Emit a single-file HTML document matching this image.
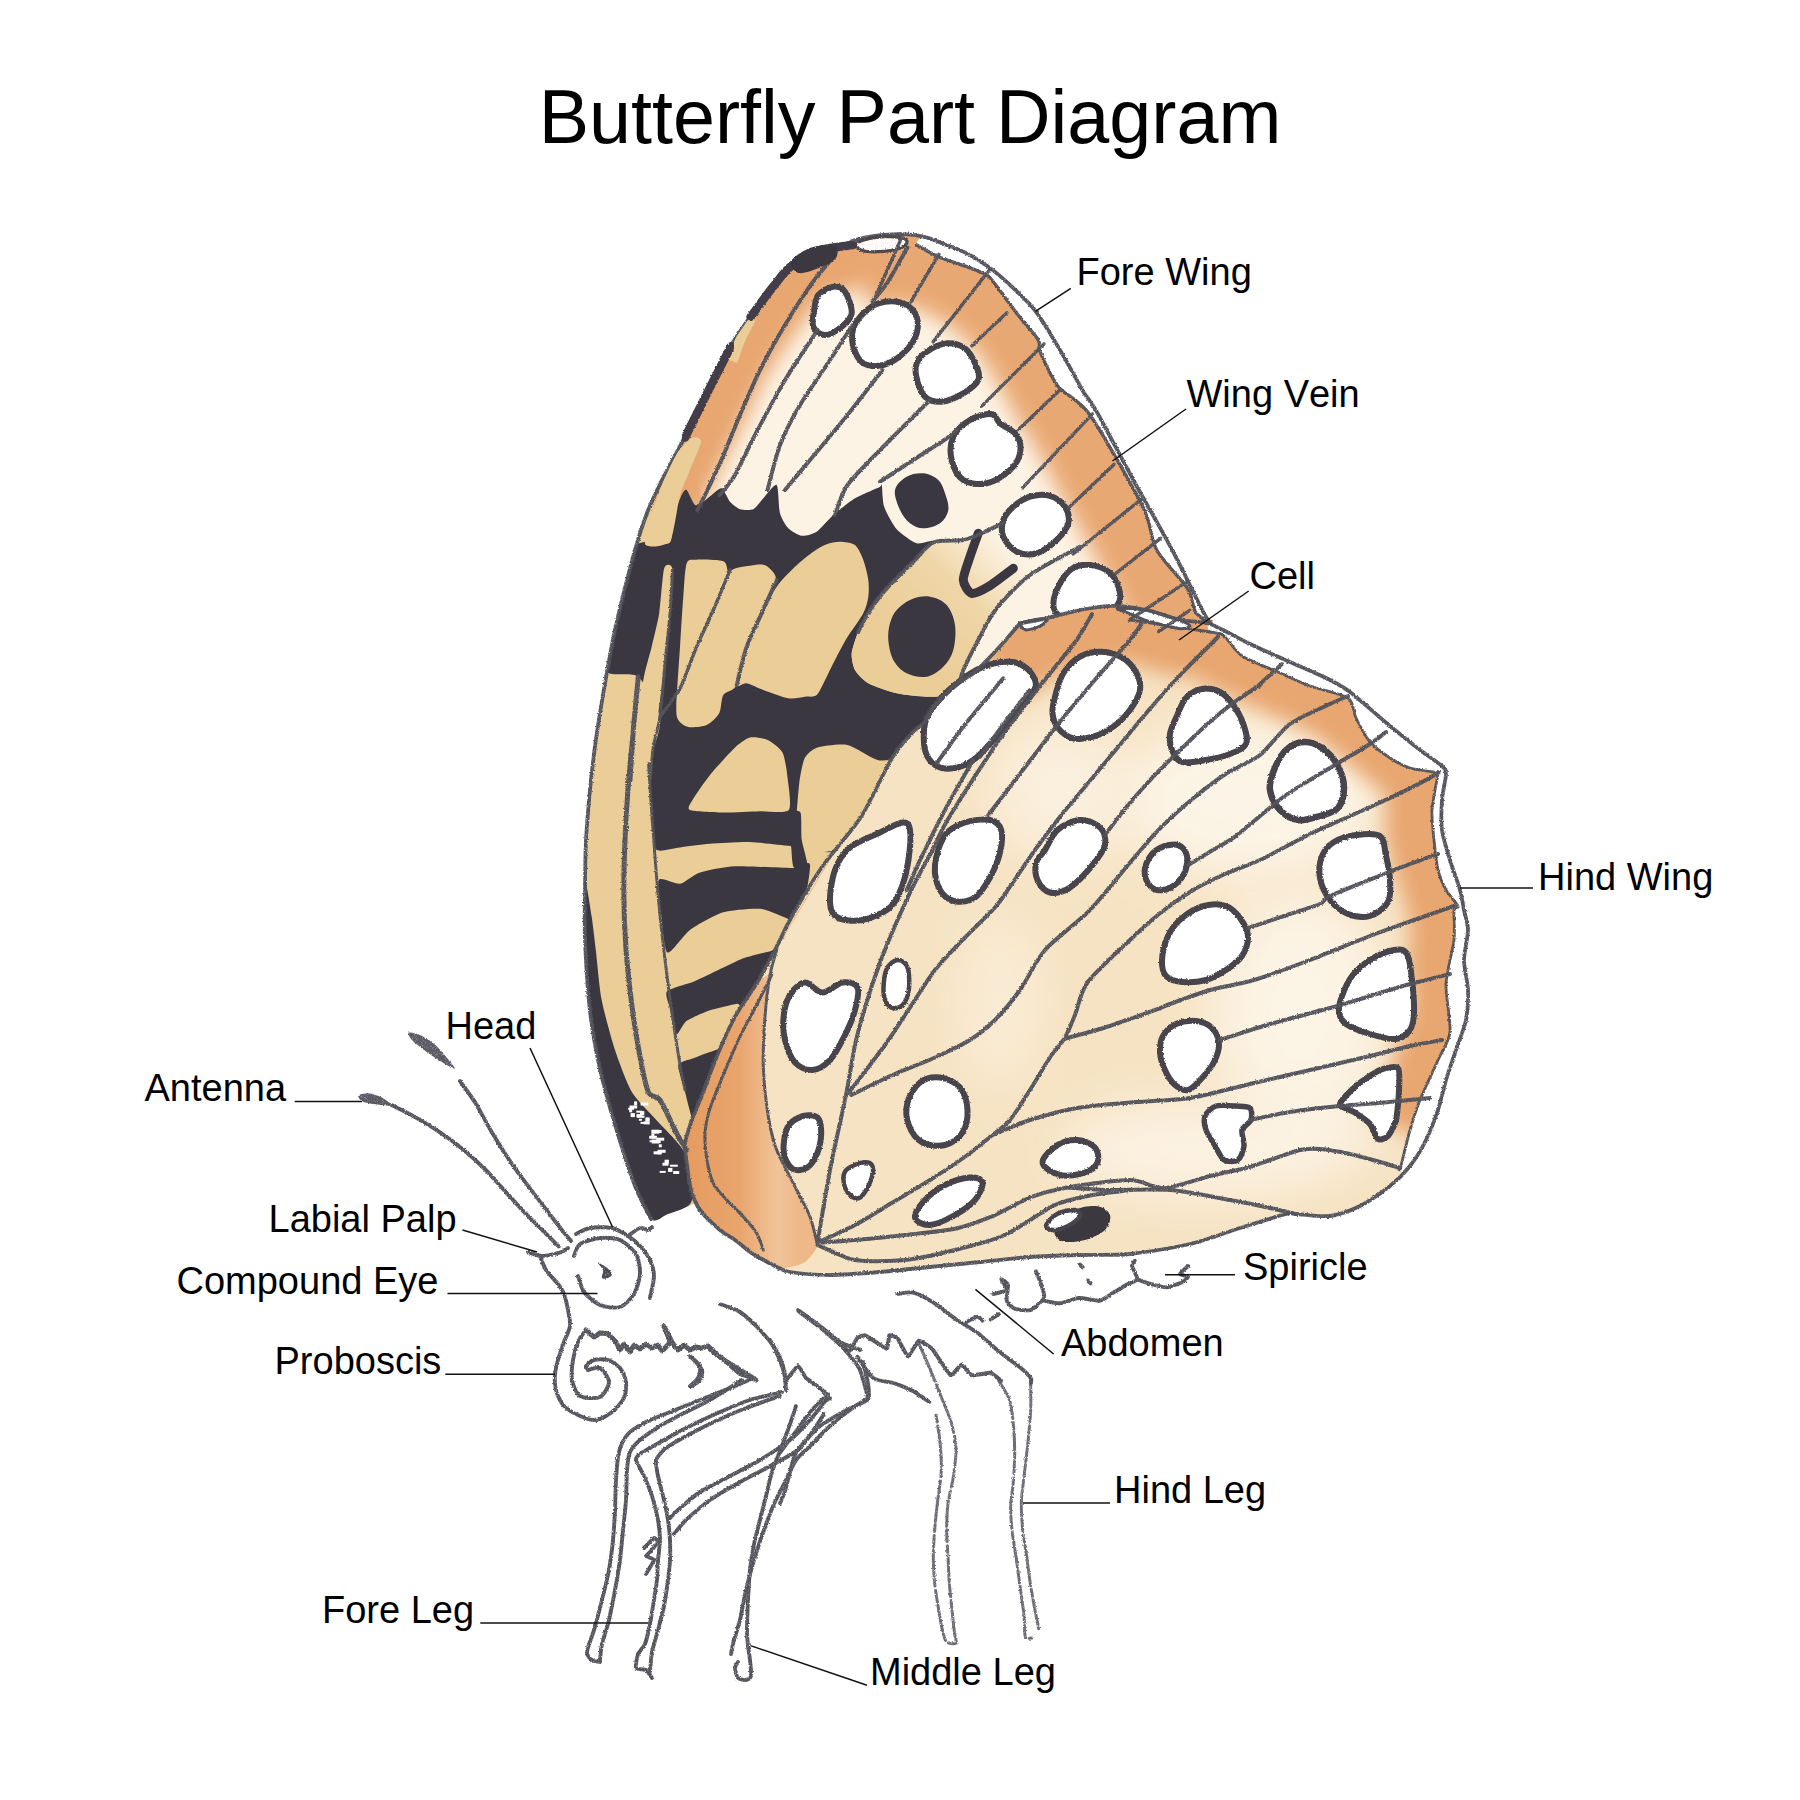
<!DOCTYPE html>
<html><head><meta charset="utf-8"><title>Butterfly Part Diagram</title>
<style>
html,body{margin:0;padding:0;background:#fff;}
body{width:1800px;height:1800px;overflow:hidden;position:relative;}
svg{position:absolute;left:0;top:0;display:block;}
text{font-family:"Liberation Sans",sans-serif;fill:#000;font-kerning:none;}
</style></head><body>
<svg width="1800" height="1800" viewBox="0 0 1800 1800">
<defs>
<filter id="b6" x="-20%" y="-20%" width="140%" height="140%"><feGaussianBlur stdDeviation="6"/></filter>
<filter id="b10" x="-20%" y="-20%" width="140%" height="140%"><feGaussianBlur stdDeviation="10"/></filter>
<filter id="b16" x="-30%" y="-30%" width="160%" height="160%"><feGaussianBlur stdDeviation="16"/></filter>
<filter id="b25" x="-30%" y="-30%" width="160%" height="160%"><feGaussianBlur stdDeviation="25"/></filter>
<filter id="rough" x="-5%" y="-5%" width="110%" height="110%"><feTurbulence type="fractalNoise" baseFrequency="0.6" numOctaves="2" seed="3" result="n"/><feDisplacementMap in="SourceGraphic" in2="n" scale="2.6" xChannelSelector="R" yChannelSelector="G"/></filter>
<linearGradient id="gEye" gradientUnits="userSpaceOnUse" x1="900" y1="640" x2="1000" y2="540"><stop offset="0" stop-color="#ebcd98"/><stop offset="0.55" stop-color="#efd6a8"/><stop offset="1" stop-color="#fdf3e4"/></linearGradient>
<linearGradient id="gInner" gradientUnits="userSpaceOnUse" x1="690" y1="1100" x2="800" y2="1100"><stop offset="0" stop-color="#e59c60"/><stop offset="0.45" stop-color="#e9a56d"/><stop offset="0.8" stop-color="#f1c49a"/><stop offset="1" stop-color="#eeb888"/></linearGradient>
<filter id="pencil" x="-5%" y="-5%" width="110%" height="110%"><feTurbulence type="fractalNoise" baseFrequency="0.6" numOctaves="2" seed="3" result="n"/><feDisplacementMap in="SourceGraphic" in2="n" scale="2.6" xChannelSelector="R" yChannelSelector="G" result="d"/><feTurbulence type="fractalNoise" baseFrequency="1.1" numOctaves="2" seed="9" result="g"/><feColorMatrix in="g" type="matrix" values="0 0 0 0 0  0 0 0 0 0  0 0 0 0 0  0 0 0 -1.1 1.55" result="ga"/><feComposite in="d" in2="ga" operator="in"/></filter>
</defs>
<clipPath id="cFW"><path d="M651 1219 C645.5 1214.3 640.8 1201.2 635 1186 C629.2 1170.8 621.8 1147.5 616 1128 C610.2 1108.5 604.3 1088.5 600 1069 C595.7 1049.5 592.5 1032.5 590 1011 C587.5 989.5 585.8 960.2 585 940 C584.2 919.8 584.8 906.7 585 890 C585.2 873.3 585.2 856.7 586 840 C586.8 823.3 588.5 805.7 590 790 C591.5 774.3 593.3 758.8 595 746 C596.7 733.2 598 725.3 600 713 C602 700.7 604.5 685.8 607 672 C609.5 658.2 612 644 615 630 C618 616 621.7 601.3 625 588 C628.3 574.7 631.3 562.5 635 550 C638.7 537.5 642.5 524.7 647 513 C651.5 501.3 657 490.2 662 480 C667 469.8 671.5 462.5 677 452 C682.5 441.5 689.2 428.7 695 417 C700.8 405.3 706.2 393.7 712 382 C717.8 370.3 723.7 357.8 730 347 C736.3 336.2 743 327 750 317 C757 307 765 295.7 772 287 C779 278.3 783.7 271.2 792 265 C800.3 258.8 814 253.1 822 250 C830 246.9 834.5 248.3 840 246.7 C845.5 245 849.2 241.8 855 240 C860.8 238.2 867.5 236.8 875 235.8 C882.5 234.9 891.9 234 900 234.2 C908.1 234.3 915.6 234.9 923.3 236.7 C931.1 238.5 939.4 242.2 946.7 245 C953.9 247.8 959.7 249.7 966.7 253.3 C973.6 256.9 981.4 261.7 988.3 266.7 C995.3 271.7 1000.8 276.4 1008.3 283.3 C1015.8 290.3 1026.4 300 1033.3 308.3 C1040.3 316.7 1044.4 324.4 1050 333.3 C1055.6 342.2 1061.1 351.9 1066.7 361.7 C1072.2 371.4 1078.3 383.3 1083.3 391.7 C1088.3 400 1088.3 396.9 1096.7 411.7 C1105 426.4 1120.7 456.9 1133.3 480 C1145.9 503.1 1160.6 528 1172.2 550 C1183.9 572 1196.9 599.9 1203.3 612.2 C1209.8 624.5 1216.7 615.9 1211.1 623.9 C1205.6 631.9 1198.5 652.3 1170 660 C1141.5 667.7 1073.3 660 1040 670 C1006.7 680 991.7 700 970 720 C948.3 740 928.3 765 910 790 C891.7 815 875.8 845 860 870 C844.2 895 826.7 919.2 815 940 C803.3 960.8 798.3 978.3 790 995 C781.7 1011.7 774.2 1025.8 765 1040 C755.8 1054.2 743.3 1066.7 735 1080 C726.7 1093.3 720.8 1106.7 715 1120 C709.2 1133.3 702.8 1147 700 1160 C697.2 1173 699.8 1190.3 698 1198 C696.2 1205.7 694 1203.3 689 1206 C684 1208.7 674.3 1211.8 668 1214 C661.7 1216.2 656.5 1223.7 651 1219Z"/></clipPath>
<clipPath id="cHW"><path d="M1020 623.3 C1026.7 619.1 1038.7 620.1 1046.7 618.3 C1054.7 616.6 1071.1 611.7 1080 610 C1088.9 608.3 1104.4 605.8 1113.3 605.8 C1122.2 605.8 1137.8 608.1 1146.7 610 C1155.6 611.9 1171.6 618.1 1180 620 C1188.4 621.9 1200.7 620.8 1210 624 C1219.3 627.2 1239.3 638.9 1250 644 C1260.7 649.1 1279.3 657.2 1290 662 C1300.7 666.8 1322 676 1330 680 C1338 684 1342 685.9 1350 692 C1358 698.1 1380.7 718.3 1390 726 C1399.3 733.7 1413.1 744.7 1420 750 C1426.9 755.3 1438.5 762.8 1442 766 C1445.5 769.2 1446 769.5 1446 774 C1446 778.5 1442.5 792.5 1442 800 C1441.5 807.5 1440.9 822 1442 830 C1443.1 838 1447.6 852 1450 860 C1452.4 868 1458.1 883.3 1460 890 C1461.9 896.7 1462.9 904.7 1464 910 C1465.1 915.3 1468 923.3 1468 930 C1468 936.7 1464 952 1464 960 C1464 968 1467.7 982 1468 990 C1468.3 998 1467.6 1012 1466 1020 C1464.4 1028 1458.7 1042 1456 1050 C1453.3 1058 1448.4 1072 1446 1080 C1443.6 1088 1440.7 1102 1438 1110 C1435.3 1118 1429.7 1132.5 1426 1140 C1422.3 1147.5 1414.8 1159.9 1410 1166 C1405.2 1172.1 1396.7 1180.7 1390 1186 C1383.3 1191.3 1368 1202 1360 1206 C1352 1210 1338.5 1214.9 1330 1216 C1321.5 1217.1 1301.9 1214.3 1296 1214 C1290.1 1213.7 1293.5 1212.1 1286 1214 C1278.5 1215.9 1252.8 1224 1240 1228 C1227.2 1232 1204.7 1240.5 1190 1244 C1175.3 1247.5 1144.7 1252.5 1130 1254 C1115.3 1255.5 1093.3 1254.6 1080 1255 C1066.7 1255.4 1043.3 1256.1 1030 1257 C1016.7 1257.9 993.3 1260.7 980 1262 C966.7 1263.3 943.3 1265.7 930 1267 C916.7 1268.3 893.3 1270.9 880 1272 C866.7 1273.1 842 1275 830 1275 C818 1275 797.3 1273.2 790 1272 C782.7 1270.8 779 1267.9 775 1266 C771 1264.1 763.3 1259.9 760 1258 C756.7 1256.1 753.3 1254.4 750 1252 C746.7 1249.6 739 1242.9 735 1240 C731 1237.1 724.7 1234 720 1230 C715.3 1226 703.9 1215.3 700 1210 C696.1 1204.7 692.7 1196 691 1190 C689.3 1184 687.8 1171.3 687 1165 C686.2 1158.7 684.3 1149 685 1143 C685.7 1137 691.1 1123.1 692 1120 C692.9 1116.9 690.2 1123.8 691.7 1120 C693.2 1116.2 700 1100.1 703.3 1091.7 C706.7 1083.2 712.4 1066.7 716.7 1056.7 C720.9 1046.7 729.7 1026.4 735 1016.7 C740.3 1006.9 751.3 992.2 756.7 983.3 C762 974.4 770.4 958.7 775 950 C779.6 941.3 784.7 929.1 791 918 C797.3 906.9 812.7 880.5 822 867 C831.3 853.5 851.7 831.5 861 817 C870.3 802.5 885.2 769.2 892 758 C898.8 746.8 907.6 737.8 912 733 C916.4 728.2 921.9 725.4 925 721.7 C928.1 717.9 930.8 710.1 935 705 C939.2 699.9 951.6 687.6 956.7 683.3 C961.8 679.1 968 677.8 973.3 673.3 C978.7 668.9 990.4 656.7 996.7 650 C1002.9 643.3 1013.3 627.6 1020 623.3Z"/></clipPath>
<g clip-path="url(#cFW)">
<path d="M651 1219 C645.5 1214.3 640.8 1201.2 635 1186 C629.2 1170.8 621.8 1147.5 616 1128 C610.2 1108.5 604.3 1088.5 600 1069 C595.7 1049.5 592.5 1032.5 590 1011 C587.5 989.5 585.8 960.2 585 940 C584.2 919.8 584.8 906.7 585 890 C585.2 873.3 585.2 856.7 586 840 C586.8 823.3 588.5 805.7 590 790 C591.5 774.3 593.3 758.8 595 746 C596.7 733.2 598 725.3 600 713 C602 700.7 604.5 685.8 607 672 C609.5 658.2 612 644 615 630 C618 616 621.7 601.3 625 588 C628.3 574.7 631.3 562.5 635 550 C638.7 537.5 642.5 524.7 647 513 C651.5 501.3 657 490.2 662 480 C667 469.8 671.5 462.5 677 452 C682.5 441.5 689.2 428.7 695 417 C700.8 405.3 706.2 393.7 712 382 C717.8 370.3 723.7 357.8 730 347 C736.3 336.2 743 327 750 317 C757 307 765 295.7 772 287 C779 278.3 783.7 271.2 792 265 C800.3 258.8 814 253.1 822 250 C830 246.9 834.5 248.3 840 246.7 C845.5 245 849.2 241.8 855 240 C860.8 238.2 867.5 236.8 875 235.8 C882.5 234.9 891.9 234 900 234.2 C908.1 234.3 915.6 234.9 923.3 236.7 C931.1 238.5 939.4 242.2 946.7 245 C953.9 247.8 959.7 249.7 966.7 253.3 C973.6 256.9 981.4 261.7 988.3 266.7 C995.3 271.7 1000.8 276.4 1008.3 283.3 C1015.8 290.3 1026.4 300 1033.3 308.3 C1040.3 316.7 1044.4 324.4 1050 333.3 C1055.6 342.2 1061.1 351.9 1066.7 361.7 C1072.2 371.4 1078.3 383.3 1083.3 391.7 C1088.3 400 1088.3 396.9 1096.7 411.7 C1105 426.4 1120.7 456.9 1133.3 480 C1145.9 503.1 1160.6 528 1172.2 550 C1183.9 572 1196.9 599.9 1203.3 612.2 C1209.8 624.5 1216.7 615.9 1211.1 623.9 C1205.6 631.9 1198.5 652.3 1170 660 C1141.5 667.7 1073.3 660 1040 670 C1006.7 680 991.7 700 970 720 C948.3 740 928.3 765 910 790 C891.7 815 875.8 845 860 870 C844.2 895 826.7 919.2 815 940 C803.3 960.8 798.3 978.3 790 995 C781.7 1011.7 774.2 1025.8 765 1040 C755.8 1054.2 743.3 1066.7 735 1080 C726.7 1093.3 720.8 1106.7 715 1120 C709.2 1133.3 702.8 1147 700 1160 C697.2 1173 699.8 1190.3 698 1198 C696.2 1205.7 694 1203.3 689 1206 C684 1208.7 674.3 1211.8 668 1214 C661.7 1216.2 656.5 1223.7 651 1219Z" fill="#fdf3e4"/>
<path d="M560 1260 L560 560 L640 470 L690 455 L702 500 L700 560 L940 600 L940 700 L880 1300Z" fill="#ebcd98"/>
<path d="M855 240 C858.3 239.3 867.5 236.8 875 235.8 C882.5 234.9 891.9 234 900 234.2 C908.1 234.3 915.6 234.9 923.3 236.7 C931.1 238.5 939.4 242.2 946.7 245 C953.9 247.8 959.7 249.7 966.7 253.3 C973.6 256.9 981.4 261.7 988.3 266.7 C995.3 271.7 1000.8 276.4 1008.3 283.3 C1015.8 290.3 1026.4 300 1033.3 308.3 C1040.3 316.7 1044.4 324.4 1050 333.3 C1055.6 342.2 1061.1 351.9 1066.7 361.7 C1072.2 371.4 1078.3 383.3 1083.3 391.7 C1088.3 400 1088.3 396.9 1096.7 411.7 C1105 426.4 1120.7 456.9 1133.3 480 C1145.9 503.1 1160.6 528 1172.2 550 C1183.9 572 1196.9 599.9 1203.3 612.2 C1209.8 624.5 1207.5 617.6 1211.1 623.9 C1214.7 630.2 1222.7 645.6 1225 650" fill="none" stroke="#e8a670" stroke-width="142" filter="url(#b10)" opacity="0.97"/>
<path d="M655 500 C658.7 492 670.3 465.8 677 452 C683.7 438.2 689.2 428.7 695 417 C700.8 405.3 706.2 393.7 712 382 C717.8 370.3 723.7 357.8 730 347 C736.3 336.2 743 327 750 317 C757 307 765 295.7 772 287 C779 278.3 783.7 271.2 792 265 C800.3 258.8 814 253.1 822 250 C830 246.9 834.5 248.3 840 246.7 C845.5 245 849.2 241.8 855 240 C860.8 238.2 871.7 236.5 875 235.8" fill="none" stroke="#e8a670" stroke-width="92" filter="url(#b10)"/>
<path d="M635 546.7 C637.9 541.2 645.9 542.2 650 541.7 C654.1 541.2 667.1 545.8 670 542.5 C672.9 539.2 673.6 518.9 675 513.3 C676.4 507.8 680.3 497.7 681.7 495 C683 492.3 685.1 488.8 686.7 490 C688.2 491.2 693.1 503.6 695 505 C696.9 506.4 701.4 502.8 703.3 501.7 C705.3 500.5 709.5 496.6 711.7 495 C713.8 493.4 719.5 487.6 721.7 488.3 C723.8 489.1 727.9 499.2 730 501.7 C732.1 504.1 737.3 508.3 740 509.2 C742.7 510 750.6 510.4 753.3 509.2 C756.1 507.9 760.6 501.2 763.3 498.3 C766.1 495.5 774.7 483.2 776.7 485 C778.6 486.8 778.6 508.3 780 513.3 C781.4 518.4 785.8 525.7 788.3 528.3 C790.9 531 798.4 535.4 801.7 535.8 C805 536.2 813 534.1 816.7 531.7 C820.4 529.2 828.9 518.9 833.3 515 C837.8 511.1 849.6 501.6 855 498.3 C860.4 495 876.9 488.5 880 486.7 C883.1 484.8 881.2 480.2 881.7 482.5 C882.2 484.8 882.4 501.2 884.2 506.7 C885.9 512.1 892.9 524.9 896.7 529.2 C900.5 533.4 912.4 541.9 916.7 543.3 C920.9 544.8 933.7 539.2 933.3 541.3 C932.9 543.5 918.6 556.4 913.3 561.7 C908.1 567 893.4 581 888.3 586.7 C883.3 592.3 873.5 604.8 870 610 C866.5 615.2 860.5 626.6 858.3 631.7 C856.2 636.7 852.1 648.9 851.7 653.3 C851.3 657.8 853.1 666.5 855 670 C856.9 673.5 863.5 680.6 868.3 683.3 C873.2 686.1 889.9 691.8 896.7 693.3 C903.5 694.9 920.8 696.5 926.7 696.7 C932.5 696.9 942.8 696.8 946.7 695 C950.6 693.2 955.5 681.1 960 681.7 C964.5 682.3 993.2 687.4 985 700 C976.8 712.6 906.9 772.5 890 790 C873.1 807.5 851.5 843.5 840 850 C828.5 856.5 801.5 846.9 791 846 C780.5 845.1 759.5 842.3 750 842 C740.5 841.7 718.2 843.1 710 843.8 C701.8 844.4 686 846.7 680 847.5 C674 848.3 661.8 851.4 658.8 850.5 C655.7 849.6 654.9 850 653.8 840 C652.6 830 649.5 779.6 648.8 765 C648 750.4 647 717.1 647.5 715 C648 712.9 651.9 746.5 653.3 746.7 C654.8 746.9 661.8 724.8 660 716.7 C658.2 708.5 644.6 681.9 638.3 676.7 C632.1 671.4 609.4 677.1 606.7 671.7 C603.9 666.2 612.9 639.7 615 630 C617.1 620.3 622.7 598.1 625 588.3 C627.3 578.6 632.1 552.1 635 546.7Z" fill="#3b3741"/>
<path d="M664.2 568.3 C665.7 563.2 671.8 563.9 672.5 569.2 C673.2 574.4 670.9 602.3 670 613.3 C669.1 624.3 666.4 651.7 665 663.3 C663.6 675 659.7 703.6 658.3 713.3 C657 723.1 654.3 738.9 653.3 746.7 C652.4 754.4 652.1 776.1 650 780 C647.9 783.9 636.4 785.8 635 780 C633.6 774.2 637.4 741.7 638.3 730 C639.3 718.3 641.8 689.7 643.3 680 C644.9 670.3 649.8 654.4 651.7 646.7 C653.5 638.9 657.7 622.5 659.2 613.3 C660.6 604.2 662.6 573.5 664.2 568.3Z" fill="#ebcd98"/>
<path d="M686.7 563.3 C688.4 558.4 691.8 559.9 696.7 559.7 C701.6 559.4 719.1 559.7 723.3 561.3 C727.6 562.9 726.6 570.8 728.3 571.7 C730.1 572.6 732 568.9 736.7 568 C741.3 567.1 758.2 563.7 763.3 564.7 C768.4 565.6 773.6 572.1 775 575 C776.4 577.9 775.9 581.6 774.2 586.7 C772.4 591.8 765.3 605.3 761.7 613.3 C758 621.3 750 637.1 746.7 646.7 C743.3 656.2 739.8 678.6 736.7 685 C733.6 691.4 725.7 691.2 723.3 695 C721 698.8 721.4 709.3 719.2 713.3 C716.9 717.3 710.8 723.2 706.7 725 C702.6 726.8 692.1 727.7 688.3 727 C684.6 726.3 679.9 722.9 678.3 720 C676.7 717.1 676.1 714.8 676.3 705 C676.6 695.2 679.1 661.1 680 646.7 C680.9 632.2 682.4 607.8 683.3 596.7 C684.2 585.6 684.9 568.3 686.7 563.3Z" fill="#ebcd98"/>
<path d="M826.7 544.2 C830.2 542.8 836.2 541.6 840 541.7 C843.8 541.8 851.9 542.6 855 545 C858.1 547.4 861.6 555.3 863.3 560 C865.1 564.7 867.7 575.1 868.3 580 C869 584.9 869 592.2 868.3 596.7 C867.7 601.1 866.2 607.8 863.3 613.3 C860.4 618.9 850.7 631.7 846.7 638.3 C842.7 645 836 658.2 833.3 663.3 C830.7 668.4 828.9 672.4 826.7 676.7 C824.4 680.9 819.6 692.3 816.7 695 C813.8 697.7 808.8 696.2 805 696.7 C801.2 697.1 793.9 699.2 788.3 698.3 C782.8 697.4 768.9 692 763.3 690 C757.8 688 750.3 684 746.7 683.3 C743 682.6 735.8 689.6 735.8 684.7 C735.8 679.8 743.2 656.2 746.7 646.7 C750.1 637.2 757.7 621.3 761.7 613.3 C765.7 605.3 772.2 592.9 776.7 586.7 C781.1 580.4 790.1 571.3 795 566.7 C799.9 562 809.1 554.7 813.3 551.7 C817.6 548.7 823.1 545.5 826.7 544.2Z" fill="#ebcd98"/>
<path d="M933.3 542.5 C939.2 540 952.1 543.7 963.3 540 C974.6 536.3 1020.3 515.2 1030 510.8 C1039.7 506.5 1044.3 496.4 1046.7 502.5 C1049 508.6 1051.9 554.9 1050 563.3 C1048.1 571.8 1036.2 569.8 1030 575 C1023.8 580.2 1002.5 601.1 996.7 608.3 C990.8 615.5 983.9 629.5 980 636.7 C976.1 643.9 965.7 664.8 963.3 670 C961 675.2 961.9 678.8 960 681.7 C958.1 684.6 950.6 693.2 946.7 695 C942.8 696.8 932.5 696.9 926.7 696.7 C920.8 696.5 903.5 694.9 896.7 693.3 C889.9 691.8 873.2 686.1 868.3 683.3 C863.5 680.6 856.9 673.5 855 670 C853.1 666.5 851.3 657.8 851.7 653.3 C852.1 648.9 856.2 636.7 858.3 631.7 C860.5 626.6 866.5 615.2 870 610 C873.5 604.8 883.3 592.3 888.3 586.7 C893.4 581 908.1 566.8 913.3 561.7 C918.6 556.5 927.5 545 933.3 542.5Z" fill="url(#gEye)"/>
<path d="M690 810 C686.5 808.5 690.2 804.1 692.5 800 C694.8 795.9 705 781.1 710 775 C715 768.9 730.3 751.9 735 747.5 C739.7 743.1 746.2 738.4 750 737.5 C753.8 736.6 763.7 738.2 767.5 740 C771.3 741.8 780.2 748.1 782.5 752.5 C784.8 756.9 786.8 770.8 787.5 777.5 C788.2 784.2 792 806.1 788.8 810 C785.5 813.9 767.7 811 760 811.2 C752.3 811.5 730.7 812.6 722.5 812.5 C714.3 812.4 693.5 811.5 690 810Z" fill="#ebcd98"/>
<path d="M805 757.5 C807 754 812.5 749 817.5 747.5 C822.5 746 840.5 743.5 847.5 745 C854.5 746.5 870.2 757.7 877.5 760 C884.8 762.3 909.1 755.7 910 765 C910.9 774.3 895.2 829.8 885 840 C874.8 850.2 832.4 849.6 822.5 852.5 C812.6 855.4 803.2 866.5 800 865 C796.8 863.5 795.3 847.3 795 840 C794.7 832.7 796.9 809.8 797.5 802.5 C798.1 795.2 799.1 782.8 800 777.5 C800.9 772.2 803 761 805 757.5Z" fill="#ebcd98"/>
<path d="M788.8 812.5 C789.7 809 799.2 809.8 800.5 812.5 C801.8 815.2 801 834.6 801.8 840 C802.5 845.4 808.3 863.5 807.5 866.2 C806.7 869 795.4 869.4 793.8 867.5 C792.1 865.6 791.8 853 791.2 847.5 C790.8 842 787.8 816 788.8 812.5Z" fill="#3b3741"/>
<path d="M895 490 C896.1 484.4 901.9 479.4 906.7 476.7 C911.4 473.9 918.1 472.8 923.3 473.3 C928.6 473.9 934.7 476.7 938.3 480 C941.9 483.3 943.3 488.3 945 493.3 C946.7 498.3 949.2 505 948.3 510 C947.5 515 944.2 520.3 940 523.3 C935.8 526.4 928.3 528.3 923.3 528.3 C918.3 528.3 913.9 526.4 910 523.3 C906.1 520.3 902.5 515.6 900 510 C897.5 504.4 893.9 495.6 895 490Z" fill="#3b3741"/>
<path d="M896.7 610 C900.3 606 906.1 601.4 911.7 599.2 C917.2 596.9 924.2 595.7 930 596.7 C935.8 597.6 942.5 600.3 946.7 605 C950.8 609.7 953.9 617.5 955 625 C956.1 632.5 955.3 643.1 953.3 650 C951.4 656.9 947.8 662.2 943.3 666.7 C938.9 671.1 932.8 675.6 926.7 676.7 C920.6 677.8 912.2 676.1 906.7 673.3 C901.1 670.6 896.4 665.6 893.3 660 C890.3 654.4 888.9 646.1 888.3 640 C887.8 633.9 888.6 628.3 890 623.3 C891.4 618.3 893.1 614 896.7 610Z" fill="#3b3741"/>
<path d="M978.3 533.3 C977.2 536.4 972 550.4 970 556.7 C968 562.9 963.1 575.1 963.3 580 C963.6 584.9 968.3 592.4 971.7 593.3 C975 594.2 982.8 590 988.3 586.7 C993.9 583.3 1010 570.8 1013.3 568.3" fill="none" stroke="#3b3741" stroke-width="9" stroke-linecap="round" stroke-linejoin="round"/>
<path d="M658.8 880 C660.9 876.4 675.2 884.6 680 883.8 C684.8 882.9 693.6 874.5 700 872.5 C706.4 870.5 724.2 866.8 735 866.2 C745.8 865.7 783.8 868.1 792.5 868 C801.2 867.9 809.1 858.9 810 865 C810.9 871.1 802.9 913.9 800 920 C797.1 926.1 789.7 918.8 785 917.5 C780.3 916.2 767.3 909.3 760 908.8 C752.7 908.2 730.7 910 722.5 912.5 C714.3 915 696.4 925.3 690 930 C683.6 934.7 670.9 954.2 667.5 952.5 C664.1 950.8 662.3 923.5 661.2 915 C660.2 906.5 656.6 883.6 658.8 880Z" fill="#3b3741"/>
<path d="M666.7 991.7 C668.8 988.5 688.2 983.8 693.3 981.7 C698.5 979.5 713.3 972.3 718.3 970 C723.3 967.7 738.3 960.2 743.3 958.3 C748.3 956.5 764.5 952.5 768.3 951.7 C772.2 950.8 784.2 944.8 781.7 950 C779.2 955.2 747.8 998 743.3 1003.3 C738.8 1008.7 740 1003 736.7 1003.7 C733.3 1004.4 715 1008.6 710 1010.3 C705 1012.1 690 1018.5 686.7 1020.8 C683.3 1023.2 678.2 1034.9 676.7 1034.2 C675.2 1033.4 672.7 1017.6 671.7 1013.3 C670.7 1009.1 664.5 994.8 666.7 991.7Z" fill="#3b3741"/>
<path d="M678.3 1065 C679.2 1061.7 690.2 1059.6 693.3 1058.3 C696.5 1057 706.7 1053 710 1052 C713.3 1051 726.7 1045.2 726.7 1048.3 C726.7 1051.5 713 1076.5 710 1083.3 C707 1090.2 698.5 1113.3 696.7 1116.7 C694.8 1120 692.8 1119.2 691.7 1116.7 C690.5 1114.2 686.3 1096.8 685 1091.7 C683.7 1086.5 677.5 1068.3 678.3 1065Z" fill="#3b3741"/>
<path d="M585 880 C584.4 882.7 585.9 926 586.3 940 C586.7 954 587.3 987.2 588.3 1000 C589.3 1012.8 592.9 1038.3 595 1050 C597.1 1061.7 603.4 1088.3 606.7 1100 C610 1111.7 619.6 1139.3 623.3 1150 C627 1160.7 635.2 1183.4 638.3 1191.7 C641.4 1199.9 646.7 1217.9 650 1220.8 C653.3 1223.8 662.1 1218.5 666.7 1216.7 C671.2 1214.8 686.2 1207.9 689.2 1205 C692.2 1202.1 692.7 1197.1 692.5 1191.7 C692.3 1186.2 689.3 1164.2 687.5 1158.3 C685.7 1152.5 680.7 1146.5 676.7 1141.7 C672.7 1136.8 658.6 1122.5 653.3 1116.7 C648.1 1110.8 636.1 1099.4 631.7 1091.7 C627.2 1083.9 618.5 1060.7 615 1050 C611.5 1039.3 603.9 1011.7 601.7 1000 C599.4 988.3 597 959.7 595.8 950 C594.7 940.3 592.9 924.8 591.7 916.7 C590.4 908.5 585.6 877.3 585 880Z" fill="#3b3741"/>
</g>
<path d="M1055.6 592.8 C1058.1 585.6 1064.6 574 1071.1 569.4 C1077.6 564.9 1087.3 564.3 1094.4 565.6 C1101.6 566.9 1109.7 571.4 1113.9 577.2 C1118.1 583.1 1121.7 594.1 1119.7 600.6 C1117.8 607 1109.7 612.5 1102.2 616.1 C1094.8 619.7 1082.8 622.6 1075 621.9 C1067.2 621.3 1058.8 617.1 1055.6 612.2 C1052.3 607.4 1053 599.9 1055.6 592.8Z" fill="#fff" stroke="#46444c" stroke-width="6" filter="url(#rough)"/>
<g clip-path="url(#cFW)"><rect x="649.2" y="1135.8" width="7.7" height="3.0" fill="#fff"/><rect x="651.4" y="1129.7" width="7.7" height="4.0" fill="#fff"/><rect x="649.6" y="1140.2" width="4.3" height="2.0" fill="#fff"/><rect x="656.5" y="1137.7" width="7.7" height="3.0" fill="#fff"/><rect x="656.7" y="1139.0" width="3.0" height="4.0" fill="#fff"/><rect x="629.2" y="1109.3" width="3.0" height="3.0" fill="#fff"/><rect x="645.4" y="1117.7" width="4.3" height="4.0" fill="#fff"/><rect x="636.5" y="1114.1" width="6.0" height="3.0" fill="#fff"/><rect x="673.2" y="1171.0" width="6.0" height="3.0" fill="#fff"/><rect x="658.8" y="1144.3" width="3.0" height="3.0" fill="#fff"/><rect x="634.1" y="1101.4" width="3.0" height="4.0" fill="#fff"/><rect x="629.5" y="1105.5" width="7.7" height="3.0" fill="#fff"/><rect x="664.6" y="1159.7" width="4.3" height="4.0" fill="#fff"/><rect x="636.8" y="1115.8" width="7.7" height="2.0" fill="#fff"/><rect x="640.6" y="1102.5" width="7.7" height="3.0" fill="#fff"/><rect x="640.0" y="1111.1" width="4.3" height="4.0" fill="#fff"/><rect x="657.9" y="1149.8" width="7.7" height="3.0" fill="#fff"/><rect x="659.7" y="1170.9" width="6.0" height="2.0" fill="#fff"/><rect x="638.9" y="1118.8" width="3.0" height="2.0" fill="#fff"/><rect x="662.5" y="1162.7" width="6.0" height="3.0" fill="#fff"/><rect x="640.5" y="1121.9" width="4.3" height="2.0" fill="#fff"/><rect x="651.7" y="1139.5" width="7.7" height="4.0" fill="#fff"/><rect x="636.3" y="1110.7" width="6.0" height="2.0" fill="#fff"/><rect x="657.3" y="1150.4" width="4.3" height="4.0" fill="#fff"/><rect x="670.1" y="1164.7" width="7.7" height="2.0" fill="#fff"/><rect x="630.6" y="1113.1" width="4.3" height="4.0" fill="#fff"/><rect x="653.6" y="1151.3" width="7.7" height="3.0" fill="#fff"/><rect x="656.4" y="1141.0" width="4.3" height="2.0" fill="#fff"/><rect x="651.4" y="1133.5" width="3.0" height="3.0" fill="#fff"/><rect x="645.9" y="1117.5" width="3.0" height="3.0" fill="#fff"/><rect x="643.7" y="1121.4" width="6.0" height="3.0" fill="#fff"/><rect x="657.3" y="1130.0" width="4.3" height="3.0" fill="#fff"/><rect x="668.1" y="1167.9" width="4.3" height="4.0" fill="#fff"/><rect x="628.1" y="1107.8" width="6.0" height="2.0" fill="#fff"/></g>
<g clip-path="url(#cHW)">
<path d="M1020 623.3 C1026.7 619.1 1038.7 620.1 1046.7 618.3 C1054.7 616.6 1071.1 611.7 1080 610 C1088.9 608.3 1104.4 605.8 1113.3 605.8 C1122.2 605.8 1137.8 608.1 1146.7 610 C1155.6 611.9 1171.6 618.1 1180 620 C1188.4 621.9 1200.7 620.8 1210 624 C1219.3 627.2 1239.3 638.9 1250 644 C1260.7 649.1 1279.3 657.2 1290 662 C1300.7 666.8 1322 676 1330 680 C1338 684 1342 685.9 1350 692 C1358 698.1 1380.7 718.3 1390 726 C1399.3 733.7 1413.1 744.7 1420 750 C1426.9 755.3 1438.5 762.8 1442 766 C1445.5 769.2 1446 769.5 1446 774 C1446 778.5 1442.5 792.5 1442 800 C1441.5 807.5 1440.9 822 1442 830 C1443.1 838 1447.6 852 1450 860 C1452.4 868 1458.1 883.3 1460 890 C1461.9 896.7 1462.9 904.7 1464 910 C1465.1 915.3 1468 923.3 1468 930 C1468 936.7 1464 952 1464 960 C1464 968 1467.7 982 1468 990 C1468.3 998 1467.6 1012 1466 1020 C1464.4 1028 1458.7 1042 1456 1050 C1453.3 1058 1448.4 1072 1446 1080 C1443.6 1088 1440.7 1102 1438 1110 C1435.3 1118 1429.7 1132.5 1426 1140 C1422.3 1147.5 1414.8 1159.9 1410 1166 C1405.2 1172.1 1396.7 1180.7 1390 1186 C1383.3 1191.3 1368 1202 1360 1206 C1352 1210 1338.5 1214.9 1330 1216 C1321.5 1217.1 1301.9 1214.3 1296 1214 C1290.1 1213.7 1293.5 1212.1 1286 1214 C1278.5 1215.9 1252.8 1224 1240 1228 C1227.2 1232 1204.7 1240.5 1190 1244 C1175.3 1247.5 1144.7 1252.5 1130 1254 C1115.3 1255.5 1093.3 1254.6 1080 1255 C1066.7 1255.4 1043.3 1256.1 1030 1257 C1016.7 1257.9 993.3 1260.7 980 1262 C966.7 1263.3 943.3 1265.7 930 1267 C916.7 1268.3 893.3 1270.9 880 1272 C866.7 1273.1 842 1275 830 1275 C818 1275 797.3 1273.2 790 1272 C782.7 1270.8 779 1267.9 775 1266 C771 1264.1 763.3 1259.9 760 1258 C756.7 1256.1 753.3 1254.4 750 1252 C746.7 1249.6 739 1242.9 735 1240 C731 1237.1 724.7 1234 720 1230 C715.3 1226 703.9 1215.3 700 1210 C696.1 1204.7 692.7 1196 691 1190 C689.3 1184 687.8 1171.3 687 1165 C686.2 1158.7 684.3 1149 685 1143 C685.7 1137 691.1 1123.1 692 1120 C692.9 1116.9 690.2 1123.8 691.7 1120 C693.2 1116.2 700 1100.1 703.3 1091.7 C706.7 1083.2 712.4 1066.7 716.7 1056.7 C720.9 1046.7 729.7 1026.4 735 1016.7 C740.3 1006.9 751.3 992.2 756.7 983.3 C762 974.4 770.4 958.7 775 950 C779.6 941.3 784.7 929.1 791 918 C797.3 906.9 812.7 880.5 822 867 C831.3 853.5 851.7 831.5 861 817 C870.3 802.5 885.2 769.2 892 758 C898.8 746.8 907.6 737.8 912 733 C916.4 728.2 921.9 725.4 925 721.7 C928.1 717.9 930.8 710.1 935 705 C939.2 699.9 951.6 687.6 956.7 683.3 C961.8 679.1 968 677.8 973.3 673.3 C978.7 668.9 990.4 656.7 996.7 650 C1002.9 643.3 1013.3 627.6 1020 623.3Z" fill="#f6e3c3"/>
<ellipse cx="1250" cy="800" rx="130" ry="80" fill="#fdf5e8" opacity="0.95" filter="url(#b25)"/>
<ellipse cx="1300" cy="1010" rx="90" ry="120" fill="#fdf5e8" opacity="0.90" filter="url(#b25)"/>
<ellipse cx="1200" cy="1150" rx="140" ry="50" fill="#fdf5e8" opacity="0.80" filter="url(#b25)"/>
<ellipse cx="1060" cy="790" rx="70" ry="70" fill="#fdf5e8" opacity="0.70" filter="url(#b25)"/>
<ellipse cx="1330" cy="1130" rx="60" ry="40" fill="#fdf5e8" opacity="0.60" filter="url(#b25)"/>
<ellipse cx="1000" cy="1000" rx="40" ry="90" fill="#fdf5e8" opacity="0.50" filter="url(#b25)"/>
<path d="M985 655 C993.2 650.1 1034 624.3 1046.7 618.3 C1059.3 612.3 1071.1 611.7 1080 610 C1088.9 608.3 1104.4 605.8 1113.3 605.8 C1122.2 605.8 1137.8 608.1 1146.7 610 C1155.6 611.9 1171.6 618.1 1180 620 C1188.4 621.9 1200.7 620.8 1210 624 C1219.3 627.2 1239.3 638.9 1250 644 C1260.7 649.1 1279.3 657.2 1290 662 C1300.7 666.8 1322 676 1330 680 C1338 684 1342 685.9 1350 692 C1358 698.1 1380.7 718.3 1390 726 C1399.3 733.7 1413.1 744.7 1420 750 C1426.9 755.3 1438.5 762.8 1442 766 C1445.5 769.2 1446 769.5 1446 774 C1446 778.5 1442.5 792.5 1442 800 C1441.5 807.5 1440.9 822 1442 830 C1443.1 838 1447.6 852 1450 860 C1452.4 868 1458.1 883.3 1460 890 C1461.9 896.7 1462.9 904.7 1464 910 C1465.1 915.3 1468 923.3 1468 930 C1468 936.7 1464 952 1464 960 C1464 968 1467.7 982 1468 990 C1468.3 998 1467.6 1012 1466 1020 C1464.4 1028 1458.7 1042 1456 1050 C1453.3 1058 1448.4 1072 1446 1080 C1443.6 1088 1440.7 1102 1438 1110 C1435.3 1118 1427.6 1136 1426 1140" fill="none" stroke="#e8a670" stroke-width="112" filter="url(#b10)"/>
<path d="M1210 624 C1214.7 625.4 1240.7 639.6 1250 644 C1259.3 648.4 1280.7 657.8 1290 662 C1299.3 666.2 1323 676.5 1330 680 C1337 683.5 1343 686.6 1350 692 C1357 697.4 1381.8 719.2 1390 726 C1398.2 732.8 1413.9 745.3 1420 750 C1426.1 754.7 1439 763.2 1442 766 C1445 768.8 1446 770 1446 774 C1446 778 1442.5 793.5 1442 800 C1441.5 806.5 1441.1 823 1442 830 C1442.9 837 1447.9 853 1450 860 C1452.1 867 1458.4 884.2 1460 890 C1461.6 895.8 1463.1 905.3 1464 910 C1464.9 914.7 1468 924.2 1468 930 C1468 935.8 1464 953 1464 960 C1464 967 1467.8 983 1468 990 C1468.2 997 1467.4 1013 1466 1020 C1464.6 1027 1458.3 1043 1456 1050 C1453.7 1057 1448.1 1073 1446 1080 C1443.9 1087 1440.3 1103 1438 1110 C1435.7 1117 1429.3 1133.5 1426 1140 C1422.7 1146.5 1413 1162.5 1410 1166 C1407 1169.5 1400 1174.2 1400 1170 C1400 1165.8 1407.7 1138.2 1410 1130 C1412.3 1121.8 1416.7 1108.2 1420 1100 C1423.3 1091.8 1434.5 1067.9 1438 1060 C1441.5 1052.1 1449.1 1040.9 1450 1032 C1450.9 1023.1 1445.5 994.7 1446 984 C1446.5 973.3 1453.1 948.6 1454 940 C1454.9 931.4 1453.5 914 1454 910 C1454.5 906 1458.9 908.3 1458 906 C1457.1 903.7 1448.3 894.2 1446 890 C1443.7 885.8 1439.4 875.8 1438 870 C1436.6 864.2 1434.7 847 1434 840 C1433.3 833 1431.5 817.7 1432 810 C1432.5 802.3 1437.8 778.4 1438 774 C1438.2 769.6 1437.3 772.7 1434 772 C1430.7 771.3 1415.1 769.6 1410 768 C1404.9 766.4 1394.7 761 1390 758 C1385.3 755 1374 746.7 1370 742 C1366 737.3 1358.6 723.1 1356 718 C1353.4 712.9 1353.4 701.7 1348 698 C1342.6 694.3 1318.2 689 1310 686 C1301.8 683 1285.9 675.5 1278 672 C1270.1 668.5 1248.3 660.2 1242 656 C1235.7 651.8 1227.7 638.8 1224 636 C1220.3 633.2 1211.6 633.4 1210 632 C1208.4 630.6 1205.3 622.6 1210 624Z" fill="#fff"/>
<path d="M1010 560 C1009.8 560 804.6 900.6 775 950 C745.4 999.4 761.3 975.6 756.7 983.3 C752 991.1 739.7 1008.1 735 1016.7 C730.3 1025.2 720.4 1047.9 716.7 1056.7 C713 1065.4 706.2 1084.3 703.3 1091.7 C700.4 1099.1 694.4 1116.7 691.7 1120 C688.9 1123.3 681.9 1117.3 680 1120 C678.1 1122.7 675.4 1137.8 675 1143 C674.6 1148.2 676.3 1159.5 677 1165 C677.7 1170.5 679.5 1184.5 681 1190 C682.5 1195.5 686.4 1206.6 690 1212 C693.6 1217.4 707.3 1231.8 712 1236 C716.7 1240.2 725.8 1245.2 730 1248 C734.2 1250.8 744.5 1257.9 748 1260 C751.5 1262.1 755.7 1265.1 760 1266 C764.3 1266.9 779.8 1268.5 785 1268 C790.2 1267.5 801.1 1264.8 805 1262 C808.9 1259.2 817.4 1249.3 818 1244 C818.6 1238.7 812.9 1223.7 810 1216.7 C807.1 1209.6 797.2 1191.1 793.3 1183.3 C789.4 1175.6 779.6 1157.8 776.7 1150 C773.8 1142.2 769.9 1126.4 768.3 1116.7 C766.8 1106.9 763.7 1078.3 763.3 1066.7 C762.9 1055 764.2 1027.4 765 1016.7 C765.8 1006 768.6 982.8 770 975 C771.4 967.2 748.7 998.4 776.7 950 C804.7 901.6 1010.2 560 1010 560Z" fill="url(#gInner)"/>
</g>
<path d="M923.3 236.7 C926.3 236.7 942.3 243.3 946.7 245 C951 246.7 962.5 251.2 966.7 253.3 C970.8 255.5 984.2 263.7 988.3 266.7 C992.5 269.7 1003.8 279.2 1008.3 283.3 C1012.8 287.5 1029.2 303.3 1033.3 308.3 C1037.5 313.3 1046.7 328 1050 333.3 C1053.3 338.7 1063.3 355.8 1066.7 361.7 C1070 367.5 1080.3 386.7 1083.3 391.7 C1086.3 396.7 1091.7 402.8 1096.7 411.7 C1101.7 420.5 1125.8 466.2 1133.3 480 C1140.9 493.8 1165.2 536.8 1172.2 550 C1179.2 563.2 1199.4 604.8 1203.3 612.2 C1207.2 619.6 1210.3 622.7 1211.1 623.9 C1211.9 625.1 1212.7 625.1 1211.1 623.9 C1209.6 622.7 1197.9 615.7 1195.6 612.2 C1193.2 608.7 1191.7 595.1 1187.8 588.9 C1183.9 582.7 1161.1 558.2 1156.7 550 C1152.2 541.8 1149.7 520.7 1143.1 507.2 C1136.4 493.7 1098.5 427.1 1090 415 C1081.5 402.9 1063.3 393 1058.3 386.7 C1053.3 380.3 1042 356.3 1040 351.7 C1038 347 1040.7 343.8 1038.3 340 C1036 336.2 1021.2 319.2 1016.7 313.3 C1012.2 307.5 996.3 285.5 993.3 281.7 C990.3 277.8 989.3 276.5 986.7 275 C984 273.5 971.5 268.5 966.7 266.7 C961.8 264.8 943.3 258.8 938.3 256.7 C933.3 254.5 918.2 247 916.7 245 C915.2 243 920.3 236.7 923.3 236.7Z" fill="#fff"/>
<g filter="url(#rough)">
<path d="M850 847.5 C857.5 841.2 871.2 836.7 880 832.5 C888.8 828.3 897.5 822.9 902.5 822.5 C907.5 822.1 909 824.2 910 830 C911 835.8 910 848.3 908.8 857.5 C907.5 866.7 905.6 876.7 902.5 885 C899.4 893.3 896.7 901.7 890 907.5 C883.3 913.3 871.2 918.3 862.5 920 C853.8 921.7 842.9 920.4 837.5 917.5 C832.1 914.6 830.4 910.4 830 902.5 C829.6 894.6 831.7 879.2 835 870 C838.3 860.8 842.5 853.8 850 847.5Z" fill="#fff" stroke="#46444c" stroke-width="6" stroke-linejoin="round"/>
<path d="M945 835 C950 827.9 957.5 825 965 822.5 C972.5 820 984 818.8 990 820 C996 821.2 999.6 824.6 1001.2 830 C1002.9 835.4 1001.9 844.6 1000 852.5 C998.1 860.4 994.2 870 990 877.5 C985.8 885 980.8 893.5 975 897.5 C969.2 901.5 960.8 902.5 955 901.2 C949.2 900 943.3 896 940 890 C936.7 884 934.2 874.2 935 865 C935.8 855.8 940 842.1 945 835Z" fill="#fff" stroke="#46444c" stroke-width="6" stroke-linejoin="round"/>
<path d="M1045 850 C1048.5 844.6 1051.7 835 1057.5 830 C1063.3 825 1072.9 820.4 1080 820 C1087.1 819.6 1095.8 823.3 1100 827.5 C1104.2 831.7 1106.2 838.8 1105 845 C1103.8 851.2 1098.3 857.9 1092.5 865 C1086.7 872.1 1077.1 882.9 1070 887.5 C1062.9 892.1 1055.4 893.8 1050 892.5 C1044.6 891.2 1039.8 885 1037.5 880 C1035.2 875 1035 867.5 1036.2 862.5 C1037.5 857.5 1041.5 855.4 1045 850Z" fill="#fff" stroke="#46444c" stroke-width="6" stroke-linejoin="round"/>
<path d="M1148 860 C1150.5 855.3 1155 850.5 1160 848 C1165 845.5 1173.5 843.7 1178 845 C1182.5 846.3 1186 851.2 1187 856 C1188 860.8 1186.8 868.7 1184 874 C1181.2 879.3 1175 885.5 1170 888 C1165 890.5 1158.2 891 1154 889 C1149.8 887 1146 880.8 1145 876 C1144 871.2 1145.5 864.7 1148 860Z" fill="#fff" stroke="#46444c" stroke-width="6" stroke-linejoin="round"/>
<path d="M886.2 970 C888.5 964.2 894 960.4 897.5 960 C901 959.6 905.6 962.5 907.5 967.5 C909.4 972.5 909.6 983.8 908.8 990 C907.9 996.2 905.4 1002.1 902.5 1005 C899.6 1007.9 894.4 1009.2 891.2 1007.5 C888.1 1005.8 884.6 1001.2 883.8 995 C882.9 988.8 884 975.8 886.2 970Z" fill="#fff" stroke="#46444c" stroke-width="4.5" stroke-linejoin="round"/>
<path d="M790 995 C793.5 989.6 799.6 982.9 805 982.5 C810.4 982.1 816.2 992.5 822.5 992.5 C828.8 992.5 836.7 983.3 842.5 982.5 C848.3 981.7 855.4 982.9 857.5 987.5 C859.6 992.1 857.1 1002.1 855 1010 C852.9 1017.9 849.2 1026.7 845 1035 C840.8 1043.3 835.4 1054.2 830 1060 C824.6 1065.8 818.3 1069.6 812.5 1070 C806.7 1070.4 799.6 1067.5 795 1062.5 C790.4 1057.5 786.9 1047.9 785 1040 C783.1 1032.1 782.9 1022.5 783.8 1015 C784.6 1007.5 786.5 1000.4 790 995Z" fill="#fff" stroke="#46444c" stroke-width="6" stroke-linejoin="round"/>
<path d="M907.5 1102.5 C909.4 1095.4 914.6 1086.7 920 1082.5 C925.4 1078.3 933.3 1076.7 940 1077.5 C946.7 1078.3 955.4 1082.1 960 1087.5 C964.6 1092.9 967.1 1102.5 967.5 1110 C967.9 1117.5 966.2 1126.7 962.5 1132.5 C958.8 1138.3 951.7 1143.3 945 1145 C938.3 1146.7 928.5 1145.8 922.5 1142.5 C916.5 1139.2 911.2 1131.7 908.8 1125 C906.2 1118.3 905.6 1109.6 907.5 1102.5Z" fill="#fff" stroke="#46444c" stroke-width="6" stroke-linejoin="round"/>
<path d="M787.5 1127.5 C790.6 1121.5 797.5 1117.9 802.5 1116.2 C807.5 1114.6 814.4 1114.8 817.5 1117.5 C820.6 1120.2 821.2 1126.7 821.2 1132.5 C821.2 1138.3 819.8 1146.7 817.5 1152.5 C815.2 1158.3 811.7 1164.8 807.5 1167.5 C803.3 1170.2 796.5 1171.2 792.5 1168.8 C788.5 1166.2 784.6 1159.4 783.8 1152.5 C782.9 1145.6 784.4 1133.5 787.5 1127.5Z" fill="#fff" stroke="#46444c" stroke-width="6" stroke-linejoin="round"/>
<path d="M846.2 1170 C849.4 1166.7 858.1 1163.1 862.5 1162.5 C866.9 1161.9 871.2 1162.9 872.5 1166.2 C873.8 1169.6 872.1 1177.3 870 1182.5 C867.9 1187.7 863.3 1195.4 860 1197.5 C856.7 1199.6 852.7 1197.5 850 1195 C847.3 1192.5 844.4 1186.7 843.8 1182.5 C843.1 1178.3 843.1 1173.3 846.2 1170Z" fill="#fff" stroke="#46444c" stroke-width="4.5" stroke-linejoin="round"/>
<path d="M915 1217.5 C914.2 1213.3 920 1205.4 925 1200 C930 1194.6 937.5 1188.8 945 1185 C952.5 1181.2 963.8 1177.9 970 1177.5 C976.2 1177.1 981.7 1178.8 982.5 1182.5 C983.3 1186.2 979.6 1194.6 975 1200 C970.4 1205.4 962.5 1210.8 955 1215 C947.5 1219.2 936.7 1224.6 930 1225 C923.3 1225.4 915.8 1221.7 915 1217.5Z" fill="#fff" stroke="#46444c" stroke-width="6" stroke-linejoin="round"/>
<path d="M1042.5 1162.5 C1042.1 1157.5 1051.7 1148.8 1057.5 1145 C1063.3 1141.2 1071.2 1139.6 1077.5 1140 C1083.8 1140.4 1091.7 1143.8 1095 1147.5 C1098.3 1151.2 1099.2 1158.3 1097.5 1162.5 C1095.8 1166.7 1091.2 1170.4 1085 1172.5 C1078.8 1174.6 1067.1 1176.7 1060 1175 C1052.9 1173.3 1042.9 1167.5 1042.5 1162.5Z" fill="#fff" stroke="#46444c" stroke-width="6" stroke-linejoin="round"/>
<path d="M1055 1230 C1057.1 1224.8 1067.9 1214 1075 1210 C1082.1 1206 1091.7 1205.4 1097.5 1206.2 C1103.3 1207.1 1108.8 1211 1110 1215 C1111.2 1219 1109.2 1225.8 1105 1230 C1100.8 1234.2 1092.1 1238.1 1085 1240 C1077.9 1241.9 1067.5 1242.9 1062.5 1241.2 C1057.5 1239.6 1052.9 1235.2 1055 1230Z" fill="#3b3741"/>
<path d="M1046.2 1225 C1047.1 1222.3 1052.7 1216.2 1057.5 1213.8 C1062.3 1211.2 1071.2 1209.6 1075 1210 C1078.8 1210.4 1081.2 1213.5 1080 1216.2 C1078.8 1219 1072.1 1224 1067.5 1226.2 C1062.9 1228.5 1056 1230.2 1052.5 1230 C1049 1229.8 1045.4 1227.7 1046.2 1225Z" fill="#fff" stroke="#46444c" stroke-width="4.5" stroke-linejoin="round"/>
<path d="M1176 718 C1178.7 712 1181.7 702.8 1186 698 C1190.3 693.2 1196.3 690 1202 689 C1207.7 688 1214.7 689.2 1220 692 C1225.3 694.8 1230 700.3 1234 706 C1238 711.7 1242 719.7 1244 726 C1246 732.3 1248.3 739.3 1246 744 C1243.7 748.7 1236.7 751.3 1230 754 C1223.3 756.7 1214 758.7 1206 760 C1198 761.3 1187.7 763.7 1182 762 C1176.3 760.3 1174 754.7 1172 750 C1170 745.3 1169.3 739.3 1170 734 C1170.7 728.7 1173.3 724 1176 718Z" fill="#fff" stroke="#46444c" stroke-width="6" stroke-linejoin="round"/>
<path d="M1274 770 C1276.7 763.3 1281 754.7 1286 750 C1291 745.3 1298 742.3 1304 742 C1310 741.7 1316.3 744 1322 748 C1327.7 752 1334.3 759.3 1338 766 C1341.7 772.7 1344 781 1344 788 C1344 795 1342 803.3 1338 808 C1334 812.7 1326.7 814 1320 816 C1313.3 818 1304.7 821 1298 820 C1291.3 819 1284.7 815 1280 810 C1275.3 805 1271 796.7 1270 790 C1269 783.3 1271.3 776.7 1274 770Z" fill="#fff" stroke="#46444c" stroke-width="6.5" stroke-linejoin="round"/>
<path d="M1322 856 C1324.3 850 1328.3 845.5 1334 842 C1339.7 838.5 1348.3 836 1356 835 C1363.7 834 1375 832.5 1380 836 C1385 839.5 1384.3 848.7 1386 856 C1387.7 863.3 1389.7 872.3 1390 880 C1390.3 887.7 1391.3 896 1388 902 C1384.7 908 1376.7 914 1370 916 C1363.3 918 1354.7 916.7 1348 914 C1341.3 911.3 1334.7 906 1330 900 C1325.3 894 1321.3 885.3 1320 878 C1318.7 870.7 1319.7 862 1322 856Z" fill="#fff" stroke="#46444c" stroke-width="6" stroke-linejoin="round"/>
<path d="M1162 960 C1162.3 953.3 1164.7 943 1168 936 C1171.3 929 1176 923 1182 918 C1188 913 1196.7 908 1204 906 C1211.3 904 1220 904 1226 906 C1232 908 1236.3 913 1240 918 C1243.7 923 1247.7 929.7 1248 936 C1248.3 942.3 1245.7 950.3 1242 956 C1238.3 961.7 1232 966 1226 970 C1220 974 1213.3 978 1206 980 C1198.7 982 1188.7 982.7 1182 982 C1175.3 981.3 1169.3 979.7 1166 976 C1162.7 972.3 1161.7 966.7 1162 960Z" fill="#fff" stroke="#46444c" stroke-width="6" stroke-linejoin="round"/>
<path d="M1342 996 C1344.2 990 1347.3 982 1352 976 C1356.7 970 1363 964.3 1370 960 C1377 955.7 1387.8 951 1394 950 C1400.2 949 1404 949 1407 954 C1410 959 1410.8 970.3 1412 980 C1413.2 989.7 1414.3 1003.7 1414 1012 C1413.7 1020.3 1413 1025.5 1410 1030 C1407 1034.5 1402.7 1038.3 1396 1039 C1389.3 1039.7 1378.3 1036.5 1370 1034 C1361.7 1031.5 1351.2 1027.7 1346 1024 C1340.8 1020.3 1339.7 1016.7 1339 1012 C1338.3 1007.3 1339.8 1002 1342 996Z" fill="#fff" stroke="#46444c" stroke-width="6" stroke-linejoin="round"/>
<path d="M1163 1036 C1165.7 1031.3 1170.5 1026.5 1176 1024 C1181.5 1021.5 1190 1020.3 1196 1021 C1202 1021.7 1208.2 1024.2 1212 1028 C1215.8 1031.8 1218.7 1038.3 1219 1044 C1219.3 1049.7 1216.8 1056.3 1214 1062 C1211.2 1067.7 1206.3 1073.3 1202 1078 C1197.7 1082.7 1192.7 1089 1188 1090 C1183.3 1091 1178 1087.7 1174 1084 C1170 1080.3 1166.3 1073.3 1164 1068 C1161.7 1062.7 1160.2 1057.3 1160 1052 C1159.8 1046.7 1160.3 1040.7 1163 1036Z" fill="#fff" stroke="#46444c" stroke-width="6" stroke-linejoin="round"/>
<path d="M1340 1104 C1340.2 1101 1351.3 1090 1356 1086 C1360.7 1082 1375.1 1072.1 1380 1070 C1384.9 1067.9 1395.8 1065.7 1398 1068 C1400.2 1070.3 1399.2 1083.9 1399 1090 C1398.8 1096.1 1397.3 1114.6 1396 1120 C1394.7 1125.4 1390.1 1133.8 1388 1136 C1385.9 1138.2 1380.1 1140.4 1378 1139 C1375.9 1137.6 1372.8 1127.2 1370 1124 C1367.2 1120.8 1357.5 1114.3 1354 1112 C1350.5 1109.7 1339.8 1107 1340 1104Z" fill="#fff" stroke="#46444c" stroke-width="6" stroke-linejoin="round"/>
<path d="M1205 1116 C1206.3 1112.8 1211.9 1107.3 1216 1106 C1220.1 1104.7 1231.5 1105.7 1236 1106 C1240.5 1106.3 1248 1106.1 1250 1108 C1252 1109.9 1252.1 1117.1 1251 1120 C1249.9 1122.9 1242.9 1126.5 1242 1130 C1241.1 1133.5 1244.5 1142 1244 1146 C1243.5 1150 1240.7 1158.1 1238 1160 C1235.3 1161.9 1227.2 1162.1 1224 1160 C1220.8 1157.9 1216.4 1148 1214 1144 C1211.6 1140 1207.2 1133.7 1206 1130 C1204.8 1126.3 1203.7 1119.2 1205 1116Z" fill="#fff" stroke="#46444c" stroke-width="5.5" stroke-linejoin="round"/>
<path d="M925 723.3 C926.7 715.8 929.7 711.7 935 705 C940.3 698.3 948.6 689.7 956.7 683.3 C964.7 676.9 974.4 670.3 983.3 666.7 C992.2 663.1 1002.8 661.4 1010 661.7 C1017.2 661.9 1022.4 664.7 1026.7 668.3 C1031 671.9 1035.3 678.6 1035.8 683.3 C1036.4 688.1 1033.8 691.1 1030 696.7 C1026.2 702.2 1019.4 709.4 1013.3 716.7 C1007.2 723.9 1000 732.8 993.3 740 C986.7 747.2 980 755.3 973.3 760 C966.7 764.7 959.7 767.5 953.3 768.3 C946.9 769.2 939.7 768.1 935 765 C930.3 761.9 926.7 756.9 925 750 C923.3 743.1 923.3 730.8 925 723.3Z" fill="#fff" stroke="#46444c" stroke-width="6" stroke-linejoin="round"/>
<path d="M1055 696.7 C1056.8 690 1059.2 680 1063.3 673.3 C1067.5 666.7 1073.6 660.3 1080 656.7 C1086.4 653.1 1094.4 651.4 1101.7 651.7 C1108.9 651.9 1117.5 654.7 1123.3 658.3 C1129.2 661.9 1133.9 668.1 1136.7 673.3 C1139.4 678.6 1141.1 683.9 1140 690 C1138.9 696.1 1134.4 703.9 1130 710 C1125.6 716.1 1119.4 722.2 1113.3 726.7 C1107.2 731.1 1100 734.7 1093.3 736.7 C1086.7 738.6 1079.2 739.7 1073.3 738.3 C1067.5 736.9 1061.8 732.5 1058.3 728.3 C1054.9 724.2 1053.1 718.6 1052.5 713.3 C1051.9 708.1 1053.2 703.3 1055 696.7Z" fill="#fff" stroke="#46444c" stroke-width="6" stroke-linejoin="round"/>
<path d="M818.3 295 C821.5 291.1 828.9 287.2 833.3 286.7 C837.8 286.1 841.9 287.2 845 291.7 C848.1 296.1 852.2 307.5 851.7 313.3 C851.1 319.2 846.1 323.1 841.7 326.7 C837.2 330.3 829.7 335 825 335 C820.3 335 815.1 330.8 813.3 326.7 C811.5 322.5 813.3 315.3 814.2 310 C815 304.7 815.1 298.9 818.3 295Z" fill="#fff" stroke="#46444c" stroke-width="6" stroke-linejoin="round"/>
<path d="M863.3 313.3 C867.5 309.2 872.2 305.1 878.3 303.3 C884.4 301.5 893.9 300.8 900 302.5 C906.1 304.2 912.2 308.2 915 313.3 C917.8 318.5 918.6 326.7 916.7 333.3 C914.7 340 908.9 348.1 903.3 353.3 C897.8 358.6 890 363.3 883.3 365 C876.7 366.7 868.3 366.4 863.3 363.3 C858.3 360.3 855 352.5 853.3 346.7 C851.7 340.8 851.7 333.9 853.3 328.3 C855 322.8 859.2 317.5 863.3 313.3Z" fill="#fff" stroke="#46444c" stroke-width="6" stroke-linejoin="round"/>
<path d="M926.7 351.7 C931.7 348.3 940.3 343.9 946.7 343.3 C953.1 342.8 960.1 344.7 965 348.3 C969.9 351.9 973.6 359.7 975.8 365 C978.1 370.3 980.4 375.3 978.3 380 C976.2 384.7 969.4 389.7 963.3 393.3 C957.2 396.9 948.1 401.1 941.7 401.7 C935.3 402.2 929.2 400.6 925 396.7 C920.8 392.8 918.1 383.9 916.7 378.3 C915.3 372.8 915 367.8 916.7 363.3 C918.3 358.9 921.7 355 926.7 351.7Z" fill="#fff" stroke="#46444c" stroke-width="6" stroke-linejoin="round"/>
<path d="M970 420 C976.4 416.2 986.7 413.6 991.7 414.2 C996.7 414.7 995.8 419.9 1000 423.3 C1004.2 426.8 1013.3 430 1016.7 435 C1020 440 1021.1 447.5 1020 453.3 C1018.9 459.2 1015.6 465 1010 470 C1004.4 475 994.4 481.7 986.7 483.3 C978.9 485 969.2 483.9 963.3 480 C957.5 476.1 953.3 467.2 951.7 460 C950 452.8 950.3 443.3 953.3 436.7 C956.4 430 963.6 423.8 970 420Z" fill="#fff" stroke="#46444c" stroke-width="6" stroke-linejoin="round"/>
<path d="M1013.3 506.7 C1017.8 502.8 1023.9 498.5 1030 496.7 C1036.1 494.9 1044.2 494.2 1050 495.8 C1055.8 497.5 1061.9 502.1 1065 506.7 C1068.1 511.2 1069.7 517.8 1068.3 523.3 C1066.9 528.9 1061.9 535 1056.7 540 C1051.4 545 1043.3 551.4 1036.7 553.3 C1030 555.3 1022.2 554.4 1016.7 551.7 C1011.1 548.9 1005.6 541.9 1003.3 536.7 C1001.1 531.4 1001.7 525 1003.3 520 C1005 515 1008.9 510.6 1013.3 506.7Z" fill="#fff" stroke="#46444c" stroke-width="6" stroke-linejoin="round"/>
</g>
<g filter="url(#pencil)">
<path d="M817.5 1242.5 C819.2 1232.8 826.2 1189.8 830 1170 C833.8 1150.2 842.9 1110.4 846.2 1093.8 C849.6 1077.1 852.5 1056.5 855 1045 C857.5 1033.5 861.7 1018.5 865 1007.5 C868.3 996.5 875.7 974.2 880 962.5 C884.3 950.8 892.8 930.7 897.5 920 C902.2 909.3 910.3 891.8 915 882.5 C919.7 873.2 928.2 858.3 932.5 850 C936.8 841.7 939.4 833.6 947.5 820 C955.6 806.4 984.3 761.9 993.3 748.3 C1002.3 734.8 1009.2 726.1 1015 718.3 C1020.8 710.6 1031.1 697.1 1036.7 690 C1042.2 682.9 1051.3 671.7 1056.7 665 C1062 658.3 1072 646.8 1076.7 640 C1081.4 633.2 1090 617.5 1092 614" fill="none" stroke="#53535b" stroke-width="4.0" stroke-linecap="round" stroke-linejoin="round" />
<path d="M988.3 815 C993.4 808.3 1017.1 777.4 1026.7 765 C1036.2 752.6 1051.1 732.8 1060 721.7 C1068.9 710.6 1085.6 690.8 1093.3 681.7 C1101.1 672.6 1113.4 658.9 1118.3 653.3 C1123.2 647.8 1126.2 645 1130 640 C1133.8 635 1144.7 619.2 1147 616" fill="none" stroke="#53535b" stroke-width="4.0" stroke-linecap="round" stroke-linejoin="round" />
<path d="M848.8 1092.5 C853.6 1086.2 876.8 1056.3 885 1045 C893.2 1033.7 903.3 1017.5 910 1007.5 C916.7 997.5 927.7 979.3 935 970 C942.3 960.7 957 945.8 965 937.5 C973 929.2 989 914.3 995 907.5 C1001 900.7 1004.7 894.3 1010 886.7 C1015.3 879 1028.3 859.3 1035 850 C1041.7 840.7 1053.3 825.1 1060 816.7 C1066.7 808.2 1077.2 796 1085 786.7 C1092.8 777.3 1109.4 757.3 1118.3 746.7 C1127.2 736 1142.8 716.9 1151.7 706.7 C1160.6 696.4 1176.6 678.9 1185 670 C1193.4 661.1 1210.3 644.8 1215 640 C1219.7 635.2 1219.3 634.8 1220 634" fill="none" stroke="#53535b" stroke-width="4.0" stroke-linecap="round" stroke-linejoin="round" />
<path d="M1105 835 C1107.9 831.2 1120.4 814.2 1126.7 806.7 C1132.9 799.1 1145 785.4 1151.7 778.3 C1158.3 771.2 1168.9 760.9 1176.7 753.3 C1184.4 745.8 1202.2 728.6 1210 721.7 C1217.8 714.8 1228.3 706.6 1235 701.7 C1241.7 696.8 1256.9 687.1 1260 685 C1263.1 682.9 1255.1 688.8 1258 686 C1260.9 683.2 1278.8 666.9 1282 664" fill="none" stroke="#53535b" stroke-width="4.0" stroke-linecap="round" stroke-linejoin="round" />
<path d="M851.2 1095 C856.8 1092.3 881.3 1080 892.5 1075 C903.7 1070 924.7 1062.2 935 1057.5 C945.3 1052.8 962 1045 970 1040 C978 1035 988.3 1026.7 995 1020 C1001.7 1013.3 1013.3 999.3 1020 990 C1026.7 980.7 1036.1 960.2 1045 950 C1053.9 939.8 1078 921.8 1086.7 913.3 C1095.3 904.9 1103.6 894.2 1110 886.7 C1116.4 879.1 1128.3 864.4 1135 856.7 C1141.7 848.9 1152.2 836.1 1160 828.3 C1167.8 820.6 1184.4 805.7 1193.3 798.3 C1202.2 791 1217.8 779.1 1226.7 773.3 C1235.6 767.6 1251.6 761.6 1260 755 C1268.4 748.4 1280.7 730.8 1290 724 C1299.3 717.2 1322.3 707.7 1330 704 C1337.7 700.3 1345.6 697.1 1348 696" fill="none" stroke="#53535b" stroke-width="4.0" stroke-linecap="round" stroke-linejoin="round" />
<path d="M1188.3 865 C1191.2 863.2 1203.8 855.4 1210 851.7 C1216.2 847.9 1225.4 843.8 1235 836.7 C1244.6 829.5 1272 805.6 1282 798 C1292 790.4 1302.3 784.8 1310 780 C1317.7 775.2 1332 766.8 1340 762 C1348 757.2 1363.9 748 1370 744 C1376.1 740 1383.9 733.6 1386 732" fill="none" stroke="#53535b" stroke-width="4.0" stroke-linecap="round" stroke-linejoin="round" />
<path d="M817.5 1242.5 C822.5 1240.2 845 1230.3 855 1225 C865 1219.7 882.5 1208.5 892.5 1202.5 C902.5 1196.5 920 1186.3 930 1180 C940 1173.7 959.2 1161 967.5 1155 C975.8 1149 986.8 1139.7 992.5 1135 C998.2 1130.3 1005 1126 1010 1120 C1015 1114 1024.7 1098.3 1030 1090 C1035.3 1081.7 1045.3 1064.5 1050 1057.5 C1054.7 1050.5 1061.7 1043.2 1065 1037.5 C1068.3 1031.8 1072 1022.3 1075 1015 C1078 1007.7 1080.2 992.5 1087.5 982.5 C1094.8 972.5 1120.3 949.2 1130 940 C1139.7 930.8 1151.6 920 1160 913.3 C1168.4 906.7 1184.4 895.3 1193.3 890 C1202.2 884.7 1217.8 877.3 1226.7 873.3 C1235.6 869.3 1248.9 865.2 1260 860 C1271.1 854.8 1298 839.9 1310 834 C1322 828.1 1339.3 820.8 1350 816 C1360.7 811.2 1379.9 802.8 1390 798 C1400.1 793.2 1419.5 783.5 1426 780 C1432.5 776.5 1437.3 773.1 1439 772" fill="none" stroke="#53535b" stroke-width="4.0" stroke-linecap="round" stroke-linejoin="round" />
<path d="M1248 928 C1253.6 926.1 1280.4 917.2 1290 914 C1299.6 910.8 1314.7 906.4 1320 904 C1325.3 901.6 1321.5 900 1330 896 C1338.5 892 1373.3 878.3 1384 874 C1394.7 869.7 1402.8 866.7 1410 864 C1417.2 861.3 1434.3 855.3 1438 854" fill="none" stroke="#53535b" stroke-width="4.0" stroke-linecap="round" stroke-linejoin="round" />
<path d="M1065 1038.8 C1070.3 1037.2 1093 1031.3 1105 1027.5 C1117 1023.7 1146.3 1013.1 1155 1010 C1163.7 1006.9 1162.7 1006.7 1170 1004 C1177.3 1001.3 1198.8 993.2 1210 990 C1221.2 986.8 1240.7 984 1254 980 C1267.3 976 1294.5 965.9 1310 960 C1325.5 954.1 1355.3 941.6 1370 936 C1384.7 930.4 1408.8 922 1420 918 C1431.2 914 1449.5 907.6 1454 906" fill="none" stroke="#53535b" stroke-width="4.0" stroke-linecap="round" stroke-linejoin="round" />
<path d="M1220 1040 C1226.7 1037.9 1255.3 1028.3 1270 1024 C1284.7 1019.7 1316.7 1011.7 1330 1008 C1343.3 1004.3 1359.3 999.2 1370 996 C1380.7 992.8 1399.3 986.9 1410 984 C1420.7 981.1 1444.7 975.3 1450 974" fill="none" stroke="#53535b" stroke-width="4.0" stroke-linecap="round" stroke-linejoin="round" />
<path d="M992.5 1135 C997.5 1133 1018.3 1123.7 1030 1120 C1041.7 1116.3 1066.7 1109.8 1080 1107.5 C1093.3 1105.2 1115.3 1103.8 1130 1102.5 C1144.7 1101.2 1174 1100.5 1190 1098 C1206 1095.5 1234 1087.7 1250 1084 C1266 1080.3 1294 1073.7 1310 1070 C1326 1066.3 1356.7 1059.2 1370 1056 C1383.3 1052.8 1400.4 1048.1 1410 1046 C1419.6 1043.9 1437.7 1040.8 1442 1040" fill="none" stroke="#53535b" stroke-width="4.0" stroke-linecap="round" stroke-linejoin="round" />
<path d="M1250 1120 C1255.3 1118.9 1278 1113.9 1290 1112 C1302 1110.1 1326.7 1107.3 1340 1106 C1353.3 1104.7 1378 1103.1 1390 1102 C1402 1100.9 1424.7 1098.5 1430 1098" fill="none" stroke="#53535b" stroke-width="4.0" stroke-linecap="round" stroke-linejoin="round" />
<path d="M822.5 1242.5 C826.8 1242.2 844 1241 855 1240 C866 1239 891.7 1236.5 905 1235 C918.3 1233.5 943.3 1231.2 955 1228.8 C966.7 1226.2 982.5 1220.4 992.5 1216.2 C1002.5 1212.1 1020 1201.3 1030 1197.5 C1040 1193.7 1054.2 1189.8 1067.5 1187.5 C1080.8 1185.2 1117.1 1179.9 1130 1180 C1142.9 1180.1 1153.3 1188.5 1164 1188 C1174.7 1187.5 1199.1 1178.7 1210 1176 C1220.9 1173.3 1238 1170.1 1246 1168 C1254 1165.9 1262.8 1162.4 1270 1160 C1277.2 1157.6 1293.3 1151.5 1300 1150 C1306.7 1148.5 1313.3 1148.5 1320 1149 C1326.7 1149.5 1342 1152.3 1350 1154 C1358 1155.7 1373.3 1160.1 1380 1162 C1386.7 1163.9 1397.3 1167.2 1400 1168" fill="none" stroke="#53535b" stroke-width="4.0" stroke-linecap="round" stroke-linejoin="round" />
<path d="M1067.5 1187.5 C1072.5 1187.8 1091.3 1189.7 1105 1190 C1118.7 1190.3 1153.3 1188.7 1170 1190 C1186.7 1191.3 1216.7 1197.6 1230 1200 C1243.3 1202.4 1261.2 1206.1 1270 1208 C1278.8 1209.9 1292.5 1213.2 1296 1214" fill="none" stroke="#53535b" stroke-width="4.0" stroke-linecap="round" stroke-linejoin="round" />
<path d="M817.5 1245 C822.5 1247 843.3 1258 855 1260 C866.7 1262 891.7 1261.3 905 1260 C918.3 1258.7 941.7 1253.3 955 1250 C968.3 1246.7 991.7 1241 1005 1235 C1018.3 1229 1043.3 1210.3 1055 1205 C1066.7 1199.7 1082.5 1197 1092.5 1195 C1102.5 1193 1125 1190.7 1130 1190" fill="none" stroke="#53535b" stroke-width="4.0" stroke-linecap="round" stroke-linejoin="round" />
<path d="M936.7 763.3 C940.2 758.4 954.4 738 963.3 726.7 C972.2 715.3 998 684.8 1003.3 678.3" fill="none" stroke="#53535b" stroke-width="4.0" stroke-linecap="round" stroke-linejoin="round" />
<path d="M980 756.7 C983.6 751.8 1000 728.9 1006.7 720 C1013.3 711.1 1026.9 694 1030 690" fill="none" stroke="#53535b" stroke-width="4.0" stroke-linecap="round" stroke-linejoin="round" />
<path d="M906.7 890 C908.7 885.6 916.3 867.8 921.7 856.7 C927 845.6 939.8 819.6 946.7 806.7 C953.6 793.8 969.8 766.2 973.3 760" fill="none" stroke="#53535b" stroke-width="4.0" stroke-linecap="round" stroke-linejoin="round" />
<path d="M771.7 975 C769.7 979 760.9 996.8 756.7 1005 C752.4 1013.2 744.4 1027.3 740 1036.7 C735.6 1046 727.3 1065.4 723.3 1075 C719.3 1084.6 712.4 1100.6 710 1108.3 C707.6 1116.1 705.4 1126.7 705 1133.3 C704.6 1140 705.6 1151.7 706.7 1158.3 C707.8 1165 710.7 1177.8 713.3 1183.3 C716 1188.9 722.7 1195.6 726.7 1200 C730.7 1204.4 739.3 1212.2 743.3 1216.7 C747.3 1221.1 754 1228.9 756.7 1233.3 C759.3 1237.8 762.4 1247.8 763.3 1250" fill="none" stroke="#53535b" stroke-width="3" stroke-linecap="round" stroke-linejoin="round" />
<path d="M776.7 950 C775.8 953.3 771.6 966.1 770 975 C768.4 983.9 765.9 1004.4 765 1016.7 C764.1 1028.9 762.9 1053.3 763.3 1066.7 C763.8 1080 766.6 1105.6 768.3 1116.7 C770.1 1127.8 773.3 1141.1 776.7 1150 C780 1158.9 788.9 1174.4 793.3 1183.3 C797.8 1192.2 806.9 1208.9 810 1216.7 C813.1 1224.4 815.8 1238.3 816.7 1241.7" fill="none" stroke="#53535b" stroke-width="3" stroke-linecap="round" stroke-linejoin="round" />
<path d="M1130 620 C1140.7 621.6 1197.5 629.9 1210 632 C1222.5 634.1 1219.7 632.8 1224 636 C1228.3 639.2 1234.8 651.2 1242 656 C1249.2 660.8 1268.9 668 1278 672 C1287.1 676 1300.7 682.5 1310 686 C1319.3 689.5 1341.9 693.7 1348 698 C1354.1 702.3 1353.1 712.1 1356 718 C1358.9 723.9 1365.5 736.7 1370 742 C1374.5 747.3 1384.7 754.5 1390 758 C1395.3 761.5 1404.1 766.1 1410 768 C1415.9 769.9 1430.8 771.5 1434 772" fill="none" stroke="#53535b" stroke-width="2.8" stroke-linecap="round" stroke-linejoin="round" />
<path d="M1438 774 C1437.2 778.8 1432.5 801.2 1432 810 C1431.5 818.8 1433.2 832 1434 840 C1434.8 848 1436.4 863.3 1438 870 C1439.6 876.7 1443.3 885.2 1446 890 C1448.7 894.8 1456.9 903.3 1458 906 C1459.1 908.7 1454.5 905.5 1454 910 C1453.5 914.5 1455.1 930.1 1454 940 C1452.9 949.9 1446.5 971.7 1446 984 C1445.5 996.3 1451.1 1021.9 1450 1032 C1448.9 1042.1 1442 1050.9 1438 1060 C1434 1069.1 1423.7 1090.7 1420 1100 C1416.3 1109.3 1412.7 1120.7 1410 1130 C1407.3 1139.3 1401.3 1164.7 1400 1170" fill="none" stroke="#53535b" stroke-width="2.8" stroke-linecap="round" stroke-linejoin="round" />
</g>
<g filter="url(#rough)">
<path d="M1020 623.3 C1021 622 1029.7 620.7 1033.3 620 C1037 619.3 1046.5 617.6 1047.5 618.3 C1048.5 619.1 1043.7 624.3 1040.8 625.8 C1037.9 627.4 1028.6 630.3 1025.8 630 C1023.1 629.7 1019 624.7 1020 623.3Z" fill="#fff" stroke="#53535b" stroke-width="3"/>
<path d="M1117.5 608.3 C1119.7 607.9 1138.3 608.7 1146.7 610.3 C1155 611.9 1174.2 618.3 1180 620.3 C1185.8 622.4 1190 624.7 1190 625.8 C1190 626.9 1185.8 629.3 1180 628.7 C1174.2 628 1153.3 622.8 1146.7 620.8 C1140 618.8 1133.9 615.3 1130 613.7 C1126.1 612 1115.3 608.8 1117.5 608.3Z" fill="#fff" stroke="#53535b" stroke-width="3"/>
</g>
<g filter="url(#pencil)">
<path d="M651 1219 C648.9 1214.6 639.7 1198.1 635 1186 C630.3 1173.9 620.7 1143.6 616 1128 C611.3 1112.4 603.5 1084.6 600 1069 C596.5 1053.4 592 1028.2 590 1011 C588 993.8 585.7 956.1 585 940 C584.3 923.9 584.9 903.3 585 890 C585.1 876.7 585.3 853.3 586 840 C586.7 826.7 588.8 802.5 590 790 C591.2 777.5 593.7 756.3 595 746 C596.3 735.7 598.4 722.9 600 713 C601.6 703.1 605 683.1 607 672 C609 660.9 612.6 641.2 615 630 C617.4 618.8 622.3 598.7 625 588 C627.7 577.3 632.1 560 635 550 C637.9 540 643.4 522.3 647 513 C650.6 503.7 658 488.1 662 480 C666 471.9 672.6 460.4 677 452 C681.4 443.6 690.3 426.3 695 417 C699.7 407.7 707.3 391.3 712 382 C716.7 372.7 724.9 355.7 730 347 C735.1 338.3 744.4 325 750 317 C755.6 309 766.4 293.9 772 287 C777.6 280.1 785.3 269.9 792 265 C798.7 260.1 815.6 252.4 822 250 C828.4 247.6 835.6 248 840 246.7 C844.4 245.3 850.3 241.4 855 240 C859.7 238.6 869 236.6 875 235.8 C881 235.1 893.6 234.1 900 234.2 C906.4 234.3 917.1 235.2 923.3 236.7 C929.6 238.1 940.9 242.8 946.7 245 C952.4 247.2 961.1 250.4 966.7 253.3 C972.2 256.2 982.8 262.7 988.3 266.7 C993.9 270.7 1002.3 277.8 1008.3 283.3 C1014.3 288.9 1027.8 301.7 1033.3 308.3 C1038.9 315 1045.6 326.2 1050 333.3 C1054.4 340.4 1062.2 353.9 1066.7 361.7 C1071.1 369.4 1079.3 385 1083.3 391.7 C1087.3 398.3 1090 399.9 1096.7 411.7 C1103.3 423.4 1123.3 461.6 1133.3 480 C1143.4 498.4 1162.9 532.4 1172.2 550 C1181.6 567.6 1198.1 602.4 1203.3 612.2 C1208.5 622.1 1210.1 622.3 1211.1 623.9" fill="none" stroke="#53535b" stroke-width="3.8" stroke-linecap="round" stroke-linejoin="round" />
<path d="M1020 623.3 C1023.6 622.7 1038.7 620.1 1046.7 618.3 C1054.7 616.6 1071.1 611.7 1080 610 C1088.9 608.3 1104.4 605.8 1113.3 605.8 C1122.2 605.8 1137.8 608.1 1146.7 610 C1155.6 611.9 1171.6 618.1 1180 620 C1188.4 621.9 1200.7 620.8 1210 624 C1219.3 627.2 1239.3 638.9 1250 644 C1260.7 649.1 1279.3 657.2 1290 662 C1300.7 666.8 1322 676 1330 680 C1338 684 1342 685.9 1350 692 C1358 698.1 1380.7 718.3 1390 726 C1399.3 733.7 1413.1 744.7 1420 750 C1426.9 755.3 1438.5 762.8 1442 766 C1445.5 769.2 1446 769.5 1446 774 C1446 778.5 1442.5 792.5 1442 800 C1441.5 807.5 1440.9 822 1442 830 C1443.1 838 1447.6 852 1450 860 C1452.4 868 1458.1 883.3 1460 890 C1461.9 896.7 1462.9 904.7 1464 910 C1465.1 915.3 1468 923.3 1468 930 C1468 936.7 1464 952 1464 960 C1464 968 1467.7 982 1468 990 C1468.3 998 1467.6 1012 1466 1020 C1464.4 1028 1458.7 1042 1456 1050 C1453.3 1058 1448.4 1072 1446 1080 C1443.6 1088 1440.7 1102 1438 1110 C1435.3 1118 1429.7 1132.5 1426 1140 C1422.3 1147.5 1414.8 1159.9 1410 1166 C1405.2 1172.1 1396.7 1180.7 1390 1186 C1383.3 1191.3 1368 1202 1360 1206 C1352 1210 1338.5 1214.9 1330 1216 C1321.5 1217.1 1301.9 1214.3 1296 1214 C1290.1 1213.7 1293.5 1212.1 1286 1214 C1278.5 1215.9 1252.8 1224 1240 1228 C1227.2 1232 1204.7 1240.5 1190 1244 C1175.3 1247.5 1144.7 1252.5 1130 1254 C1115.3 1255.5 1093.3 1254.6 1080 1255 C1066.7 1255.4 1043.3 1256.1 1030 1257 C1016.7 1257.9 993.3 1260.7 980 1262 C966.7 1263.3 943.3 1265.7 930 1267 C916.7 1268.3 893.3 1270.9 880 1272 C866.7 1273.1 842 1275 830 1275 C818 1275 797.3 1273.2 790 1272 C782.7 1270.8 779 1267.9 775 1266 C771 1264.1 763.3 1259.9 760 1258 C756.7 1256.1 753.3 1254.4 750 1252 C746.7 1249.6 739 1242.9 735 1240 C731 1237.1 724.7 1234 720 1230 C715.3 1226 703.9 1215.3 700 1210 C696.1 1204.7 692.7 1196 691 1190 C689.3 1184 687.8 1171.3 687 1165 C686.2 1158.7 684.3 1149 685 1143 C685.7 1137 691.1 1123.1 692 1120" fill="none" stroke="#53535b" stroke-width="3.8" stroke-linecap="round" stroke-linejoin="round" />
<path d="M692 1120 C692 1120 690.2 1123.8 691.7 1120 C693.2 1116.2 700 1100.1 703.3 1091.7 C706.7 1083.2 712.4 1066.7 716.7 1056.7 C720.9 1046.7 729.7 1026.4 735 1016.7 C740.3 1006.9 751.3 992.2 756.7 983.3 C762 974.4 770.4 958.7 775 950 C779.6 941.3 784.7 929.1 791 918 C797.3 906.9 812.7 880.5 822 867 C831.3 853.5 851.7 831.5 861 817 C870.3 802.5 885.2 769.2 892 758 C898.8 746.8 907.6 737.8 912 733 C916.4 728.2 921.9 725.4 925 721.7 C928.1 717.9 930.8 710.1 935 705 C939.2 699.9 951.6 687.6 956.7 683.3 C961.8 679.1 968 677.8 973.3 673.3 C978.7 668.9 990.4 656.7 996.7 650 C1002.9 643.3 1016.9 626.9 1020 623.3" fill="none" stroke="#53535b" stroke-width="3.8" stroke-linecap="round" stroke-linejoin="round" />
</g>
<g filter="url(#pencil)">
<path d="M855 245 C855.6 243.1 861.4 240.6 866.7 239.2 C871.9 237.8 880.6 236.8 886.7 236.7 C892.8 236.5 900 237.2 903.3 238.3 C906.7 239.4 907.8 241.5 906.7 243.3 C905.6 245.1 901.4 247.8 896.7 249.2 C891.9 250.6 883.9 251.4 878.3 251.7 C872.8 251.9 867.2 251.9 863.3 250.8 C859.4 249.7 854.4 246.9 855 245Z" fill="#fff" stroke="#46444c" stroke-width="3.2" stroke-linejoin="round"/>
<path d="M835 255 C832 258.7 819.2 273.2 812.5 282.5 C805.8 291.8 792 313.3 785 325 C778 336.7 766 358 760 370 C754 382 745 403.3 740 415 C735 426.7 726.8 447.5 722.5 457.5 C718.2 467.5 710.8 483 707.5 490 C704.2 497 698.8 507.3 697.5 510" fill="none" stroke="#53535b" stroke-width="4.0" stroke-linecap="round" stroke-linejoin="round" />
<path d="M817.5 330 C813.2 336.7 793.3 366 785 380 C776.7 394 761.7 422.3 755 435 C748.3 447.7 739.7 467 735 475 C730.3 483 722 492.3 720 495" fill="none" stroke="#53535b" stroke-width="4.0" stroke-linecap="round" stroke-linejoin="round" />
<path d="M907.5 247.5 C904.8 252.2 892.2 275.3 887.5 282.5 C882.8 289.7 874.5 298.8 872.5 301.2" fill="none" stroke="#53535b" stroke-width="4.0" stroke-linecap="round" stroke-linejoin="round" />
<path d="M852.5 325 C849.5 329.7 837 349.3 830 360 C823 370.7 806.7 393.7 800 405 C793.3 416.3 784.3 433.7 780 445 C775.7 456.3 769.2 484 767.5 490" fill="none" stroke="#53535b" stroke-width="4.0" stroke-linecap="round" stroke-linejoin="round" />
<path d="M882.5 370 C877.8 376 857.2 403 847.5 415 C837.8 427 818.3 450 810 460 C801.7 470 788.3 486 785 490" fill="none" stroke="#53535b" stroke-width="4.0" stroke-linecap="round" stroke-linejoin="round" />
<path d="M930 400 C924 406 896 433.7 885 445 C874 456.3 854.2 475.7 847.5 485 C840.8 494.3 836.7 511 835 515" fill="none" stroke="#53535b" stroke-width="4.0" stroke-linecap="round" stroke-linejoin="round" />
<path d="M1004.2 522.5 C1001.4 523.8 988.8 530.2 983.3 532.5 C977.9 534.8 970 538.7 963.3 540 C956.7 541.3 940 539.6 933.3 542.5 C926.7 545.4 919.3 555.8 913.3 561.7 C907.3 567.6 894.1 580.2 888.3 586.7 C882.6 593.1 874 604 870 610 C866 616 859.9 628.8 858.3 631.7" fill="none" stroke="#53535b" stroke-width="4.0" stroke-linecap="round" stroke-linejoin="round" />
<path d="M1080 546.7 C1073.3 550.4 1041.1 566.8 1030 575 C1018.9 583.2 1003.3 600.1 996.7 608.3 C990 616.6 984.4 628.4 980 636.7 C975.6 644.9 966 664 963.3 670 C960.7 676 960.4 680.1 960 681.7" fill="none" stroke="#53535b" stroke-width="4.0" stroke-linecap="round" stroke-linejoin="round" />
<path d="M880 481.7 C884.4 478.8 904.4 465.8 913.3 460 C922.2 454.2 940.9 442.3 946.7 438.3 C952.4 434.3 955.3 431.1 956.7 430" fill="none" stroke="#53535b" stroke-width="4.0" stroke-linecap="round" stroke-linejoin="round" />
<path d="M730 570 C727.8 575.3 717.8 599.8 713.3 610 C708.9 620.2 701.1 636.2 696.7 646.7 C692.2 657.1 684.9 679 680 688.3 C675.1 697.7 662.7 712.9 660 716.7" fill="none" stroke="#53535b" stroke-width="3.4" stroke-linecap="round" stroke-linejoin="round" />
<path d="M672.5 569.2 C672.2 575.1 671 600.8 670 613.3 C669 625.9 666.3 649.6 665 663.3 C663.7 677.1 661.6 705.6 660 716.7 C658.4 727.8 654.7 738.2 653.3 746.7 C652 755.1 650.6 777.6 650 780 C649.4 782.4 648.2 757 648.8 765 C649.2 773 652.2 820 653.8 840 C655.2 860 658 895 660 915 C662 935 666.1 970 668.8 990 C671.4 1010 677.8 1051.7 680 1065 C682.2 1078.3 684.3 1086.7 685 1090" fill="none" stroke="#53535b" stroke-width="3" stroke-linecap="round" stroke-linejoin="round" />
<path d="M776.7 580 C774.7 584.4 765.7 604.4 761.7 613.3 C757.7 622.2 750 637.1 746.7 646.7 C743.3 656.2 738 679.9 736.7 685" fill="none" stroke="#53535b" stroke-width="4" stroke-linecap="round" stroke-linejoin="round" />
<path d="M638.3 676.7 C637.7 683.8 634.4 716.2 633.3 730 C632.2 743.8 630.1 778.7 630 780 C629.9 781.3 633 735.3 632.5 740 C632 744.7 627.4 795 626.2 815 C625.1 835 623.8 871.7 623.8 890 C623.8 908.3 624.8 934.2 626.2 952.5 C627.8 970.8 632.2 1009.2 635 1027.5 C637.8 1045.8 644.2 1080.3 647.5 1090 C650.8 1099.7 656.1 1094.2 660 1100 C663.9 1105.8 673.1 1126.7 676.7 1133.3 C680.2 1140 685.3 1147.8 686.7 1150" fill="none" stroke="#53535b" stroke-width="5" stroke-linecap="round" stroke-linejoin="round" />
<path d="M901.9 236.9 L872.8 303.1" fill="none" stroke="#53535b" stroke-width="3.4" stroke-linecap="round" stroke-linejoin="round" />
<path d="M938.9 254.4 L910.9 301.9" fill="none" stroke="#53535b" stroke-width="3.4" stroke-linecap="round" stroke-linejoin="round" />
<path d="M989.4 270 L933.1 341.9" fill="none" stroke="#53535b" stroke-width="3.4" stroke-linecap="round" stroke-linejoin="round" />
<path d="M1006.9 312.8 L971.9 345.8" fill="none" stroke="#53535b" stroke-width="3.4" stroke-linecap="round" stroke-linejoin="round" />
<path d="M1043.9 343.9 L981.7 406.1" fill="none" stroke="#53535b" stroke-width="3.4" stroke-linecap="round" stroke-linejoin="round" />
<path d="M1059.4 390.6 L1018.6 429.4" fill="none" stroke="#53535b" stroke-width="3.4" stroke-linecap="round" stroke-linejoin="round" />
<path d="M1092.5 413.9 L1022.5 487.8" fill="none" stroke="#53535b" stroke-width="3.4" stroke-linecap="round" stroke-linejoin="round" />
<path d="M1113.9 464.4 L1069.2 507.2" fill="none" stroke="#53535b" stroke-width="3.4" stroke-linecap="round" stroke-linejoin="round" />
<path d="M1141.1 499.4 L1073.1 553.9" fill="none" stroke="#53535b" stroke-width="3.4" stroke-linecap="round" stroke-linejoin="round" />
<path d="M1160.6 538.3 L1115.8 573.3" fill="none" stroke="#53535b" stroke-width="3.4" stroke-linecap="round" stroke-linejoin="round" />
<path d="M1187.8 581.1 L1129.4 620" fill="none" stroke="#53535b" stroke-width="3.4" stroke-linecap="round" stroke-linejoin="round" />
<path d="M1189.7 610.3 L1158.6 631.7" fill="none" stroke="#53535b" stroke-width="3.4" stroke-linecap="round" stroke-linejoin="round" />
<path d="M916.7 245 C919.6 246.6 931.7 253.8 938.3 256.7 C945 259.6 960.2 264.2 966.7 266.7 C973.1 269.1 983.1 273 986.7 275 C990.2 277 989.3 276.6 993.3 281.7 C997.3 286.8 1010.7 305.6 1016.7 313.3 C1022.7 321.1 1035.2 334.9 1038.3 340 C1041.4 345.1 1037.3 345.4 1040 351.7 C1042.7 357.9 1051.7 378.2 1058.3 386.7 C1065 395.1 1078.7 398.9 1090 415 C1101.3 431.1 1134.2 489.2 1143.1 507.2 C1151.9 525.2 1150.7 539.1 1156.7 550 C1162.6 560.9 1182.6 580.6 1187.8 588.9 C1193 597.2 1192.4 607.6 1195.6 612.2 C1198.7 616.9 1209 622.3 1211.1 623.9" fill="none" stroke="#53535b" stroke-width="3.4" stroke-linecap="round" stroke-linejoin="round" />
</g>
<g clip-path="url(#cFW)">
<path d="M692.5 437.5 C694.9 436.4 701.5 438 701.2 441.2 C701 444.5 692.1 464.6 690 470 C687.9 475.4 682 487.9 680 495 C678 502.1 673.5 536.4 670 541.2 C666.5 546.1 646 548.9 645 543.8 C644 538.6 656.8 499.1 660 490 C663.2 480.9 674.2 457.8 677.5 452.5 C680.8 447.2 690.1 438.6 692.5 437.5Z" fill="#ebcd98"/>
<path d="M751.2 318.8 C749.6 321.9 744.4 330.4 741.2 337.5 C738.1 344.6 734 357.3 732.5 361.2" fill="none" stroke="#ebcd98" stroke-width="10"/>
</g>
<path d="M852.5 245 C847.5 245.8 832.5 246.7 822.5 250 C812.5 253.3 800.8 258.8 792.5 265 C784.2 271.2 779.5 278.8 772.5 287.5 C765.5 296.2 754.2 312.1 750.5 317" fill="none" stroke="#423e48" stroke-width="8.5" stroke-linecap="round" filter="url(#rough)"/>
<path d="M731 346.2 C727.9 352.3 718.5 370.6 712.5 382.5 C706.5 394.4 699.6 408.3 695 417.5 C690.4 426.7 686.7 434.2 685 437.5" fill="none" stroke="#423e48" stroke-width="8.5" stroke-linecap="round" filter="url(#rough)"/>
<path d="M791.2 261.2 C793.1 257.1 802.9 250.7 810 248 C817.1 245.3 829.4 243.4 833.8 245 C838.1 246.6 838.5 253.8 836.2 257.5 C834 261.2 826.2 264.9 820 267.5 C813.8 270.1 803.5 274 798.8 273 C794 272 789.4 265.4 791.2 261.2Z" fill="#3b3741" filter="url(#rough)"/>
<g filter="url(#pencil)">
<path d="M578 1276 C578.8 1278.1 581.1 1288.1 584 1292 C586.9 1295.9 595.2 1303 600 1305 C604.8 1307 615.5 1308.5 620 1307 C624.5 1305.5 631.3 1298.4 634 1294 C636.7 1289.6 639.7 1279.3 640 1274 C640.3 1268.7 638.7 1258.5 636 1254 C633.3 1249.5 624.8 1242.1 620 1240 C615.2 1237.9 605.3 1237.5 600 1238 C594.7 1238.5 583.5 1241.6 580 1244 C576.5 1246.4 574.8 1254.4 574 1256" fill="none" stroke="#53535b" stroke-width="3.9" stroke-linecap="round" stroke-linejoin="round" />
<path d="M576 1234 C577.9 1233.2 585.2 1228.8 590 1228 C594.8 1227.2 606.9 1226.9 612 1228 C617.1 1229.1 624.3 1233.6 628 1236 C631.7 1238.4 637.1 1242.8 640 1246 C642.9 1249.2 648.1 1256 650 1260 C651.9 1264 654 1270.9 654 1276 C654 1281.1 650.5 1295.1 650 1298" fill="none" stroke="#53535b" stroke-width="3.9" stroke-linecap="round" stroke-linejoin="round" />
<path d="M598 1263 C598.5 1262.5 603.7 1265.2 606 1267 C608.3 1268.8 611.7 1272.2 612 1274 C612.3 1275.8 609.7 1277.3 608 1278 C606.3 1278.7 602.8 1279.3 602 1278 C601.2 1276.7 603.7 1272.5 603 1270 C602.3 1267.5 597.5 1263.5 598 1263Z" fill="#4a4850"/>
<path d="M628 1236 C629.6 1234.9 637.3 1228.8 640 1228 C642.7 1227.2 646.4 1230.1 648 1230 C649.6 1229.9 651.5 1227.4 652 1227" fill="none" stroke="#53535b" stroke-width="3.9" stroke-linecap="round" stroke-linejoin="round" />
<path d="M528 1252 C529.9 1252.5 537.5 1256 542 1256 C546.5 1256 558.5 1253.1 562 1252 C565.5 1250.9 567.2 1248.5 568 1248" fill="none" stroke="#53535b" stroke-width="3.9" stroke-linecap="round" stroke-linejoin="round" />
<path d="M540 1256 C540.8 1257.9 543.6 1266.3 546 1270 C548.4 1273.7 555.6 1280.8 558 1284 C560.4 1287.2 562.7 1290.5 564 1294 C565.3 1297.5 567.2 1305.7 568 1310 C568.8 1314.3 570.5 1321.7 570 1326 C569.5 1330.3 565.6 1337.5 564 1342 C562.4 1346.5 559.2 1355.7 558 1360 C556.8 1364.3 555.3 1370 555 1374 C554.7 1378 554.8 1385.7 556 1390 C557.2 1394.3 560.8 1402.5 564 1406 C567.2 1409.5 575.7 1414.1 580 1416 C584.3 1417.9 591.7 1420.5 596 1420 C600.3 1419.5 608.3 1414.9 612 1412 C615.7 1409.1 622.1 1402 624 1398 C625.9 1394 626.5 1386 626 1382 C625.5 1378 622.4 1370.9 620 1368 C617.6 1365.1 611.5 1361.1 608 1360 C604.5 1358.9 596.9 1359.2 594 1360 C591.1 1360.8 586.8 1364.7 586 1366 C585.2 1367.3 587.7 1369.5 588 1370" fill="none" stroke="#53535b" stroke-width="3.9" stroke-linecap="round" stroke-linejoin="round" />
<path d="M586 1330 C584.9 1331.6 579.7 1338 578 1342 C576.3 1346 573.8 1354.9 573 1360 C572.2 1365.1 571.1 1375.2 572 1380 C572.9 1384.8 576.3 1393.7 580 1396 C583.7 1398.3 596.1 1398.9 600 1397 C603.9 1395.1 609 1385.9 609 1382 C609 1378.1 602.8 1369.6 600 1368 C597.2 1366.4 589.6 1369.7 588 1370" fill="none" stroke="#53535b" stroke-width="3.9" stroke-linecap="round" stroke-linejoin="round" />
<path d="M586 1330 C586.3 1330.2 593.5 1336.9 594 1337 C594.5 1337.1 599.5 1333.1 600 1333 C600.5 1332.9 607.5 1333.7 608 1334 C608.5 1334.3 615.6 1341.5 616 1342 C616.4 1342.5 619.7 1349.9 620 1350 C620.3 1350.1 623.7 1343.9 624 1344 C624.3 1344.1 629.7 1352 630 1352 C630.3 1352 633.7 1345.1 634 1345 C634.3 1344.9 639.6 1349 640 1349 C640.4 1349 645.6 1344 646 1344 C646.4 1344 651.6 1348 652 1348 C652.4 1348 657.7 1344.9 658 1345 C658.3 1345.1 661.6 1351.1 662 1351 C662.4 1350.9 669.9 1342.8 670 1342 C670.1 1341.2 663.9 1326 664 1326 C664.1 1326 671.5 1341.2 672 1342 C672.5 1342.8 677.6 1349.9 678 1350 C678.4 1350.1 683.6 1345 684 1345 C684.4 1345 689.6 1349.9 690 1350 C690.4 1350.1 695.6 1347.1 696 1347 C696.4 1346.9 701.6 1348 702 1348 C702.4 1348 707.7 1345.9 708 1346 C708.3 1346.1 711.5 1349.5 712 1350 C712.5 1350.5 723.1 1359.3 724 1360 C724.9 1360.7 738.9 1369.3 740 1370 C741.1 1370.7 755.5 1379.7 756 1380" fill="none" stroke="#53535b" stroke-width="5" stroke-linecap="round" stroke-linejoin="round" />
<path d="M692 1358 C693.3 1359.6 700.9 1367.1 702 1370 C703.1 1372.9 701.3 1377.9 700 1380 C698.7 1382.1 693.1 1385.2 692 1386" fill="none" stroke="#53535b" stroke-width="3.9" stroke-linecap="round" stroke-linejoin="round" />
<path d="M720 1304 C722.7 1305.1 734.7 1308.5 740 1312 C745.3 1315.5 755.2 1324.9 760 1330 C764.8 1335.1 772.8 1344.7 776 1350 C779.2 1355.3 782.7 1364.7 784 1370 C785.3 1375.3 785.7 1387.3 786 1390" fill="none" stroke="#53535b" stroke-width="3.9" stroke-linecap="round" stroke-linejoin="round" />
<path d="M798 1310 C800.9 1312.1 814.4 1321.7 820 1326 C825.6 1330.3 834.7 1338.8 840 1342 C845.3 1345.2 857.3 1348.9 860 1350" fill="none" stroke="#53535b" stroke-width="3.9" stroke-linecap="round" stroke-linejoin="round" />
<path d="M460 1081.1 C461.5 1083.2 472 1097.5 475.1 1102.4 C478.2 1107.4 487.7 1125.2 491.1 1130.9 C494.5 1136.6 505.3 1154 508.9 1159.3 C512.4 1164.7 523.1 1179.4 526.7 1184.2 C530.2 1189 540.9 1202.7 544.4 1207.3 C548 1212 559.6 1227.1 562.2 1230.4 C564.9 1233.8 570.2 1240 571.1 1241.1" fill="none" stroke="#53535b" stroke-width="3.9" stroke-linecap="round" stroke-linejoin="round" />
<path d="M391.6 1105.1 C393.5 1106.1 406.5 1112.3 411.1 1114.9 C415.7 1117.5 432.4 1127.3 437.8 1130.9 C443.1 1134.4 459.6 1146.5 464.4 1150.4 C469.2 1154.4 481.9 1166.1 485.8 1170 C489.7 1173.9 499.8 1185.5 503.6 1189.6 C507.3 1193.6 519.4 1207 523.1 1210.9 C526.8 1214.8 537.3 1225.1 540.9 1228.7 C544.4 1232.2 556.9 1244.7 558.7 1246.4" fill="none" stroke="#53535b" stroke-width="3.9" stroke-linecap="round" stroke-linejoin="round" />
<path d="M408.4 1032.8 C409.4 1031.9 416.3 1033.2 420 1034.9 C423.7 1036.6 431.4 1041.2 436 1045.6 C440.6 1049.9 453.2 1065.2 454.7 1067.8 C456.1 1070.4 450.1 1067 446.7 1065.1 C443.2 1063.2 433.4 1056.8 428.9 1053.6 C424.4 1050.4 415.6 1043.9 412.9 1041.1 C410.2 1038.3 407.5 1033.6 408.4 1032.8Z" fill="#5a5962"/>
<path d="M358.3 1095.3 C359.3 1094.3 365.4 1093 368.4 1093.2 C371.5 1093.4 377.6 1095.4 380.9 1097.1 C384.2 1098.8 393.1 1104.9 393.3 1106 C393.6 1107.1 386 1105.5 382.7 1105.1 C379.3 1104.8 371.3 1103.9 368.4 1103.3 C365.6 1102.7 362.7 1101.7 361.3 1100.7 C360 1099.6 357.4 1096.3 358.3 1095.3Z" fill="#5a5962"/>
<path d="M754 1378 C750.8 1379.3 737.2 1385.1 730 1388 C722.8 1390.9 708 1396.8 700 1400 C692 1403.2 677.2 1409.1 670 1412 C662.8 1414.9 651.6 1419.1 646 1422 C640.4 1424.9 631.6 1430 628 1434 C624.4 1438 620.6 1445.9 619 1452 C617.4 1458.1 616.5 1472.3 616 1480 C615.5 1487.7 615.4 1502 615 1510 C614.6 1518 613.8 1532 613 1540 C612.2 1548 610.5 1562 609 1570 C607.5 1578 604 1592 602 1600 C600 1608 596 1623.1 594 1630 C592 1636.9 587.3 1648 587 1652 C586.7 1656 590.3 1658.7 592 1660 C593.7 1661.3 598.9 1661.7 600 1662" fill="none" stroke="#53535b" stroke-width="3.9" stroke-linecap="round" stroke-linejoin="round" />
<path d="M742 1380 C737.7 1382.7 718 1395.5 710 1400 C702 1404.5 688.7 1410.5 682 1414 C675.3 1417.5 665.6 1422.5 660 1426 C654.4 1429.5 644 1436.5 640 1440 C636 1443.5 631.7 1448 630 1452 C628.3 1456 627.5 1463.6 627 1470 C626.5 1476.4 626.5 1492 626 1500 C625.5 1508 623.8 1522 623 1530 C622.2 1538 621.1 1552 620 1560 C618.9 1568 616.5 1582 615 1590 C613.5 1598 610.7 1612.8 609 1620 C607.3 1627.2 603.2 1638.7 602 1644 C600.8 1649.3 600.3 1657.9 600 1660" fill="none" stroke="#53535b" stroke-width="3.9" stroke-linecap="round" stroke-linejoin="round" />
<path d="M782 1392 C778.8 1392.8 756.2 1398 750 1400 C743.8 1402 726 1409.4 720 1412 C714 1414.6 695.6 1423.2 690 1426 C684.4 1428.8 669 1437.2 664 1440 C659 1442.8 642.8 1452 640 1454 C637.2 1456 635.6 1457.8 636 1460 C636.4 1462.2 642.4 1472.4 644 1476 C645.6 1479.6 650.6 1491.6 652 1496 C653.4 1500.4 657.2 1515.6 658 1520 C658.8 1524.4 660 1536 660 1540 C660 1544 658.3 1556 658 1560 C657.7 1564 657.4 1576 657 1580 C656.6 1584 654.7 1595.6 654 1600 C653.3 1604.4 650.9 1619.6 650 1624 C649.1 1628.4 646.2 1641 645 1644 C643.8 1647 638.9 1651.6 638 1654 C637.1 1656.4 635.2 1666.4 636 1668 C636.8 1669.6 644.4 1669 646 1670 C647.6 1671 651.4 1677.2 652 1678" fill="none" stroke="#53535b" stroke-width="3.9" stroke-linecap="round" stroke-linejoin="round" />
<path d="M780 1396 C776.6 1397.2 752.2 1405.6 746 1408 C739.8 1410.4 723.6 1417.4 718 1420 C712.4 1422.6 695.2 1431.2 690 1434 C684.8 1436.8 669.4 1445.4 666 1448 C662.6 1450.6 656.8 1457.2 656 1460 C655.2 1462.8 657.2 1472 658 1476 C658.8 1480 663 1495.6 664 1500 C665 1504.4 667.4 1516 668 1520 C668.6 1524 669.8 1536 670 1540 C670.2 1544 670.2 1556 670 1560 C669.8 1564 668.6 1575.4 668 1580 C667.4 1584.6 665 1601 664 1606 C663 1611 659.2 1625.4 658 1630 C656.8 1634.6 652.8 1647.8 652 1652 C651.2 1656.2 650.2 1670 650 1672" fill="none" stroke="#53535b" stroke-width="3.9" stroke-linecap="round" stroke-linejoin="round" />
<path d="M644 1548 C644.7 1547.3 653.1 1538.4 654 1538 C654.9 1537.6 658.3 1541.1 658 1542 C657.7 1542.9 650.8 1551.1 650 1552 C649.2 1552.9 645.7 1555.5 646 1556 C646.3 1556.5 654 1558.8 654 1560 C654 1561.2 646.5 1573.1 646 1574" fill="none" stroke="#53535b" stroke-width="3.9" stroke-linecap="round" stroke-linejoin="round" />
<path d="M826 1400 C823.9 1402.7 814.8 1414.7 810 1420 C805.2 1425.3 796.7 1434.7 790 1440 C783.3 1445.3 768 1455.2 760 1460 C752 1464.8 738 1471.7 730 1476 C722 1480.3 706.9 1487.5 700 1492 C693.1 1496.5 682 1506.5 678 1510 C674 1513.5 671.1 1516.9 670 1518" fill="none" stroke="#53535b" stroke-width="3.9" stroke-linecap="round" stroke-linejoin="round" />
<path d="M824 1414 C820.8 1418.5 807.2 1441.1 800 1448 C792.8 1454.9 778 1461.5 770 1466 C762 1470.5 748 1477.5 740 1482 C732 1486.5 717.2 1494.9 710 1500 C702.8 1505.1 690.8 1515.5 686 1520 C681.2 1524.5 675.6 1532.1 674 1534" fill="none" stroke="#53535b" stroke-width="3.9" stroke-linecap="round" stroke-linejoin="round" />
<path d="M868 1398 C865.6 1399.6 855.1 1406.3 850 1410 C844.9 1413.7 835.3 1421.2 830 1426 C824.7 1430.8 814.5 1441.5 810 1446 C805.5 1450.5 799.2 1455.5 796 1460 C792.8 1464.5 788.9 1474.1 786 1480 C783.1 1485.9 776.9 1497.3 774 1504 C771.1 1510.7 766.7 1522.5 764 1530 C761.3 1537.5 756.4 1552 754 1560 C751.6 1568 747.9 1582 746 1590 C744.1 1598 741.6 1613.3 740 1620 C738.4 1626.7 735.2 1635.5 734 1640 C732.8 1644.5 731.4 1652.1 731 1654" fill="none" stroke="#53535b" stroke-width="3.9" stroke-linecap="round" stroke-linejoin="round" />
<path d="M796 1406 C795.2 1408.4 791.9 1418.7 790 1424 C788.1 1429.3 784.4 1439.6 782 1446 C779.6 1452.4 774.1 1465.3 772 1472 C769.9 1478.7 767.6 1489.6 766 1496 C764.4 1502.4 761.6 1513.6 760 1520 C758.4 1526.4 755.3 1537.3 754 1544 C752.7 1550.7 750.8 1562.5 750 1570 C749.2 1577.5 748.4 1592 748 1600 C747.6 1608 747 1623.9 747 1630 C747 1636.1 747.6 1642 748 1646 C748.4 1650 749.6 1656 750 1660 C750.4 1664 751.5 1673.3 751 1676 C750.5 1678.7 747.7 1679.7 746 1680 C744.3 1680.3 739.5 1679.6 738 1678 C736.5 1676.4 735 1670.1 735 1668 C735 1665.9 737.6 1662.8 738 1662" fill="none" stroke="#53535b" stroke-width="3.9" stroke-linecap="round" stroke-linejoin="round" />
<path d="M770 1340 C770.7 1341.3 776.8 1353.3 778 1356 C779.2 1358.7 783.3 1370 784 1372 C784.7 1374 784.8 1380.5 786 1380 C787.2 1379.5 796.3 1366.2 798 1366 C799.7 1365.8 804.2 1376.2 806 1378 C807.8 1379.8 818 1386.3 820 1388 C822 1389.7 829.5 1397 830 1398 C830.5 1399 826.3 1399.8 826 1400" fill="none" stroke="#53535b" stroke-width="3.9" stroke-linecap="round" stroke-linejoin="round" />
<path d="M836 1340 C837.9 1342.1 846.8 1352 850 1356 C853.2 1360 857.6 1364.4 860 1370 C862.4 1375.6 866.9 1394.3 868 1398" fill="none" stroke="#53535b" stroke-width="3.9" stroke-linecap="round" stroke-linejoin="round" />
<path d="M690 1356 C691.3 1357.3 698.9 1363.1 700 1366 C701.1 1368.9 699.3 1375.3 698 1378 C696.7 1380.7 691.1 1384.9 690 1386" fill="none" stroke="#53535b" stroke-width="3.9" stroke-linecap="round" stroke-linejoin="round" />
<path d="M710 1350 C712.1 1351.6 722 1358.8 726 1362 C730 1365.2 736.3 1371.9 740 1374 C743.7 1376.1 752.1 1377.5 754 1378" fill="none" stroke="#53535b" stroke-width="3.9" stroke-linecap="round" stroke-linejoin="round" />
<path d="M918.7 1343.3 C920.1 1346.5 926.5 1360.6 929.3 1367.3 C932.2 1374.1 937.2 1386.9 940 1394 C942.8 1401.1 948.5 1413.6 950.7 1420.7 C952.8 1427.8 955.6 1439.9 956 1447.3 C956.4 1454.8 954.4 1469.2 953.3 1476.7 C952.3 1484.1 948.9 1496.2 948 1503.3 C947.1 1510.4 946.7 1522.9 946.7 1530 C946.7 1537.1 947.6 1549.6 948 1556.7 C948.4 1563.8 948.8 1576.2 949.3 1583.3 C949.9 1590.4 951.3 1603.2 952 1610 C952.7 1616.8 954.1 1629.6 954.7 1634 C955.2 1638.4 957.1 1642.3 956 1643.3 C954.9 1644.4 948.4 1643.6 946.7 1642 C944.9 1640.4 943.7 1635.6 942.7 1631.3 C941.6 1627.1 939.7 1616.4 938.7 1610 C937.6 1603.6 935.4 1590.4 934.7 1583.3 C934 1576.2 933.3 1563.8 933.3 1556.7 C933.3 1549.6 934.1 1537.1 934.7 1530 C935.2 1522.9 936.4 1511.2 937.3 1503.3 C938.2 1495.5 941 1479.5 941.3 1471.3 C941.7 1463.2 940.7 1449.5 940 1442 C939.3 1434.5 936.5 1418.9 936 1415.3" fill="none" stroke="#6a6a72" stroke-width="3.0" stroke-linecap="round" stroke-linejoin="round" stroke-dasharray="26 3 12 4 7 3"/>
<path d="M1030.7 1380.7 C1030.7 1384.6 1031 1401.8 1030.7 1410 C1030.3 1418.2 1028.9 1433.1 1028 1442 C1027.1 1450.9 1024.9 1468.5 1024 1476.7 C1023.1 1484.8 1021.5 1496.2 1021.3 1503.3 C1021.2 1510.4 1022 1522.9 1022.7 1530 C1023.4 1537.1 1025.6 1549.2 1026.7 1556.7 C1027.7 1564.1 1029.4 1578.2 1030.7 1586 C1031.9 1593.8 1034.9 1609.6 1036 1615.3 C1037.1 1621 1038.3 1626.9 1038.7 1628.7" fill="none" stroke="#6a6a72" stroke-width="3.0" stroke-linecap="round" stroke-linejoin="round" stroke-dasharray="26 3 12 4 7 3"/>
<path d="M998.7 1380.7 C1000.1 1383.2 1007.4 1393.6 1009.3 1399.3 C1011.3 1405 1012.6 1416.2 1013.3 1423.3 C1014 1430.4 1014.7 1444.8 1014.7 1452.7 C1014.7 1460.5 1013.9 1474.9 1013.3 1482 C1012.8 1489.1 1010.8 1499.6 1010.7 1506 C1010.5 1512.4 1011.3 1523.2 1012 1530 C1012.7 1536.8 1014.9 1549.2 1016 1556.7 C1017.1 1564.1 1018.9 1578.2 1020 1586 C1021.1 1593.8 1023.3 1608.6 1024 1615.3 C1024.7 1622.1 1024.3 1633.6 1025.3 1636.7 C1026.4 1639.7 1031.1 1637.8 1032 1638" fill="none" stroke="#6a6a72" stroke-width="3.0" stroke-linecap="round" stroke-linejoin="round" stroke-dasharray="26 3 12 4 7 3"/>
<path d="M798.7 1311.3 C799.7 1312.1 818 1325.7 820 1327.3 C822 1328.9 837.2 1342.1 838.7 1343.3 C840.1 1344.5 848.4 1351.6 849.3 1351.3 C850.3 1351.1 856.5 1338.8 857.3 1338 C858.1 1337.2 863.9 1334.8 865.3 1335.3 C866.8 1335.9 885.5 1348.7 886.7 1348.7 C887.9 1348.7 888.8 1335.9 889.3 1335.3 C889.9 1334.8 896.4 1336.9 897.3 1338 C898.3 1339.1 906.9 1356.5 908 1356.7 C909.1 1356.8 917.5 1341.1 918.7 1340.7 C919.9 1340.3 930.4 1346.9 932 1348.7 C933.6 1350.4 949.2 1374.5 950.7 1375.3 C952.1 1376.1 960.3 1364.7 961.3 1364.7 C962.4 1364.7 970.5 1374.9 972 1375.3 C973.5 1375.7 989.2 1372.4 990.7 1372.7 C992.1 1372.9 1000.8 1380.3 1001.3 1380.7" fill="none" stroke="#53535b" stroke-width="4" stroke-linecap="round" stroke-linejoin="round" />
<path d="M897.3 1294 C899.5 1293.8 908.4 1291.4 913.3 1292.7 C918.3 1293.9 929 1299.8 934.7 1303.3 C940.4 1306.9 950.3 1315.4 956 1319.3 C961.7 1323.2 971.6 1328.4 977.3 1332.7 C983 1336.9 993 1346.7 998.7 1351.3 C1004.4 1356 1015.7 1363.8 1020 1367.3 C1024.3 1370.9 1029.2 1375.9 1030.7 1378 C1032.1 1380.1 1030.7 1382.6 1030.7 1383.3" fill="none" stroke="#53535b" stroke-width="3.9" stroke-linecap="round" stroke-linejoin="round" />
<path d="M966.7 1322 C968.1 1321.3 975.2 1316.8 977.3 1316.7 C979.5 1316.5 982 1320.1 982.7 1320.7" fill="none" stroke="#53535b" stroke-width="3.9" stroke-linecap="round" stroke-linejoin="round" />
<path d="M990.7 1319.3 L998.7 1314" fill="none" stroke="#53535b" stroke-width="4" stroke-linecap="round" stroke-linejoin="round" />
<path d="M993.3 1294 C994.7 1293.6 1005.9 1291.5 1006.7 1290 C1007.5 1288.5 1001.2 1279.9 1001.3 1279.3 C1001.5 1278.8 1007.5 1282.5 1008 1284.7 C1008.5 1286.8 1006 1298.3 1006.7 1300.7 C1007.3 1303.1 1012.3 1307.7 1014.7 1308.7 C1017.1 1309.6 1027.7 1311.1 1030.7 1310 C1033.6 1308.9 1042.9 1300.5 1044 1298 C1045.1 1295.5 1042.1 1287.3 1041.3 1284.7 C1040.5 1282 1036.5 1272.7 1036 1271.3" fill="none" stroke="#53535b" stroke-width="3.9" stroke-linecap="round" stroke-linejoin="round" />
<path d="M1044 1300.7 C1045.6 1300.9 1056.5 1303.6 1060 1303.3 C1063.5 1303.1 1074.7 1298.3 1078.7 1298 C1082.7 1297.7 1096.5 1301.2 1100 1300.7 C1103.5 1300.1 1110.7 1294.3 1113.3 1292.7 C1116 1291.1 1124.3 1286 1126.7 1284.7 C1129.1 1283.3 1136.8 1281.2 1137.3 1279.3 C1137.9 1277.5 1132.3 1267.9 1132 1266 C1131.7 1264.1 1134.4 1261.2 1134.7 1260.7" fill="none" stroke="#53535b" stroke-width="3.9" stroke-linecap="round" stroke-linejoin="round" />
<path d="M1137.3 1279.3 C1138.9 1279.9 1150.4 1283.9 1153.3 1284.7 C1156.3 1285.5 1163.7 1287.6 1166.7 1287.3 C1169.6 1287.1 1180.5 1283.1 1182.7 1282 C1184.8 1280.9 1188.3 1277.5 1188 1276.7 C1187.7 1275.9 1180 1275.1 1180 1274 C1180 1272.9 1187.2 1266.8 1188 1266" fill="none" stroke="#53535b" stroke-width="3.9" stroke-linecap="round" stroke-linejoin="round" />
<path d="M1080 1264.7 L1082.7 1267.3" fill="none" stroke="#53535b" stroke-width="4" stroke-linecap="round" stroke-linejoin="round" />
<path d="M1088 1280.7 L1090.7 1283.3" fill="none" stroke="#53535b" stroke-width="4" stroke-linecap="round" stroke-linejoin="round" />
<path d="M828 1394 C825.9 1396.1 816.3 1405 812 1410 C807.7 1415 800.3 1425.6 796 1431.3 C791.7 1437 782.1 1449.8 780 1452.7" fill="none" stroke="#53535b" stroke-width="3.9" stroke-linecap="round" stroke-linejoin="round" />
<path d="M862.7 1362 C863.2 1364.1 867.5 1379.6 868 1383.3 C868.5 1387.1 870.1 1396.7 868 1399.3 C865.9 1402 851.5 1407.3 846.7 1410 C841.9 1412.7 825.1 1421.7 820 1426 C814.9 1430.3 799.5 1446.3 796 1452.7 C792.5 1459.1 786.9 1484.9 785.3 1490 C783.7 1495.1 780.5 1502 780 1503.3" fill="none" stroke="#53535b" stroke-width="3.9" stroke-linecap="round" stroke-linejoin="round" />
<path d="M857.3 1356.7 C859.5 1359.5 868.4 1374.4 873.3 1378 C878.3 1381.6 889.3 1381.6 894.7 1383.3 C900 1385.1 908.7 1388.8 913.3 1391.3 C918 1393.8 927.2 1400.6 929.3 1402" fill="none" stroke="#53535b" stroke-width="3.9" stroke-linecap="round" stroke-linejoin="round" />
</g>
<text x="910" y="143.3" font-size="75.5" text-anchor="middle">Butterfly Part Diagram</text>
<text x="1076.5" y="284.5" font-size="38">Fore Wing</text>
<text x="1186.5" y="407.2" font-size="38">Wing Vein</text>
<text x="1249.5" y="589.4" font-size="38">Cell</text>
<text x="1538" y="890" font-size="38">Hind Wing</text>
<text x="1243" y="1280.2" font-size="38">Spiricle</text>
<text x="1061" y="1355.5" font-size="38">Abdomen</text>
<text x="1114" y="1503.4" font-size="38">Hind Leg</text>
<text x="870" y="1685.4" font-size="38">Middle Leg</text>
<text x="322" y="1623" font-size="38">Fore Leg</text>
<text x="274.5" y="1373.6" font-size="38">Proboscis</text>
<text x="176.5" y="1294.4" font-size="38">Compound Eye</text>
<text x="268.5" y="1232" font-size="38">Labial Palp</text>
<text x="144.5" y="1100.8" font-size="38">Antenna</text>
<text x="445.5" y="1038.5" font-size="38">Head</text>
<line x1="1070.8" y1="288.3" x2="1035.4" y2="311.3" stroke="#111" stroke-width="1.5"/>
<line x1="1186" y1="409" x2="1112.5" y2="461" stroke="#111" stroke-width="1.5"/>
<line x1="1248.7" y1="591" x2="1179" y2="640" stroke="#111" stroke-width="1.5"/>
<line x1="1460" y1="888" x2="1533" y2="888" stroke="#111" stroke-width="1.5"/>
<line x1="1165" y1="1274.8" x2="1235" y2="1274.8" stroke="#111" stroke-width="1.5"/>
<line x1="975.4" y1="1289.3" x2="1053.6" y2="1354" stroke="#111" stroke-width="1.5"/>
<line x1="1023" y1="1503" x2="1110" y2="1503" stroke="#111" stroke-width="1.5"/>
<line x1="750.4" y1="1645.6" x2="867" y2="1685.3" stroke="#111" stroke-width="1.5"/>
<line x1="480.3" y1="1623" x2="648.4" y2="1623" stroke="#111" stroke-width="1.5"/>
<line x1="445.3" y1="1374.2" x2="555" y2="1374.2" stroke="#111" stroke-width="1.5"/>
<line x1="447.5" y1="1293.6" x2="597.5" y2="1293.6" stroke="#111" stroke-width="1.5"/>
<line x1="462.5" y1="1230" x2="537" y2="1252" stroke="#111" stroke-width="1.5"/>
<line x1="294.7" y1="1101.4" x2="362" y2="1101.4" stroke="#111" stroke-width="1.5"/>
<line x1="530" y1="1048" x2="612.5" y2="1227" stroke="#111" stroke-width="1.5"/>
</svg>
</body></html>
